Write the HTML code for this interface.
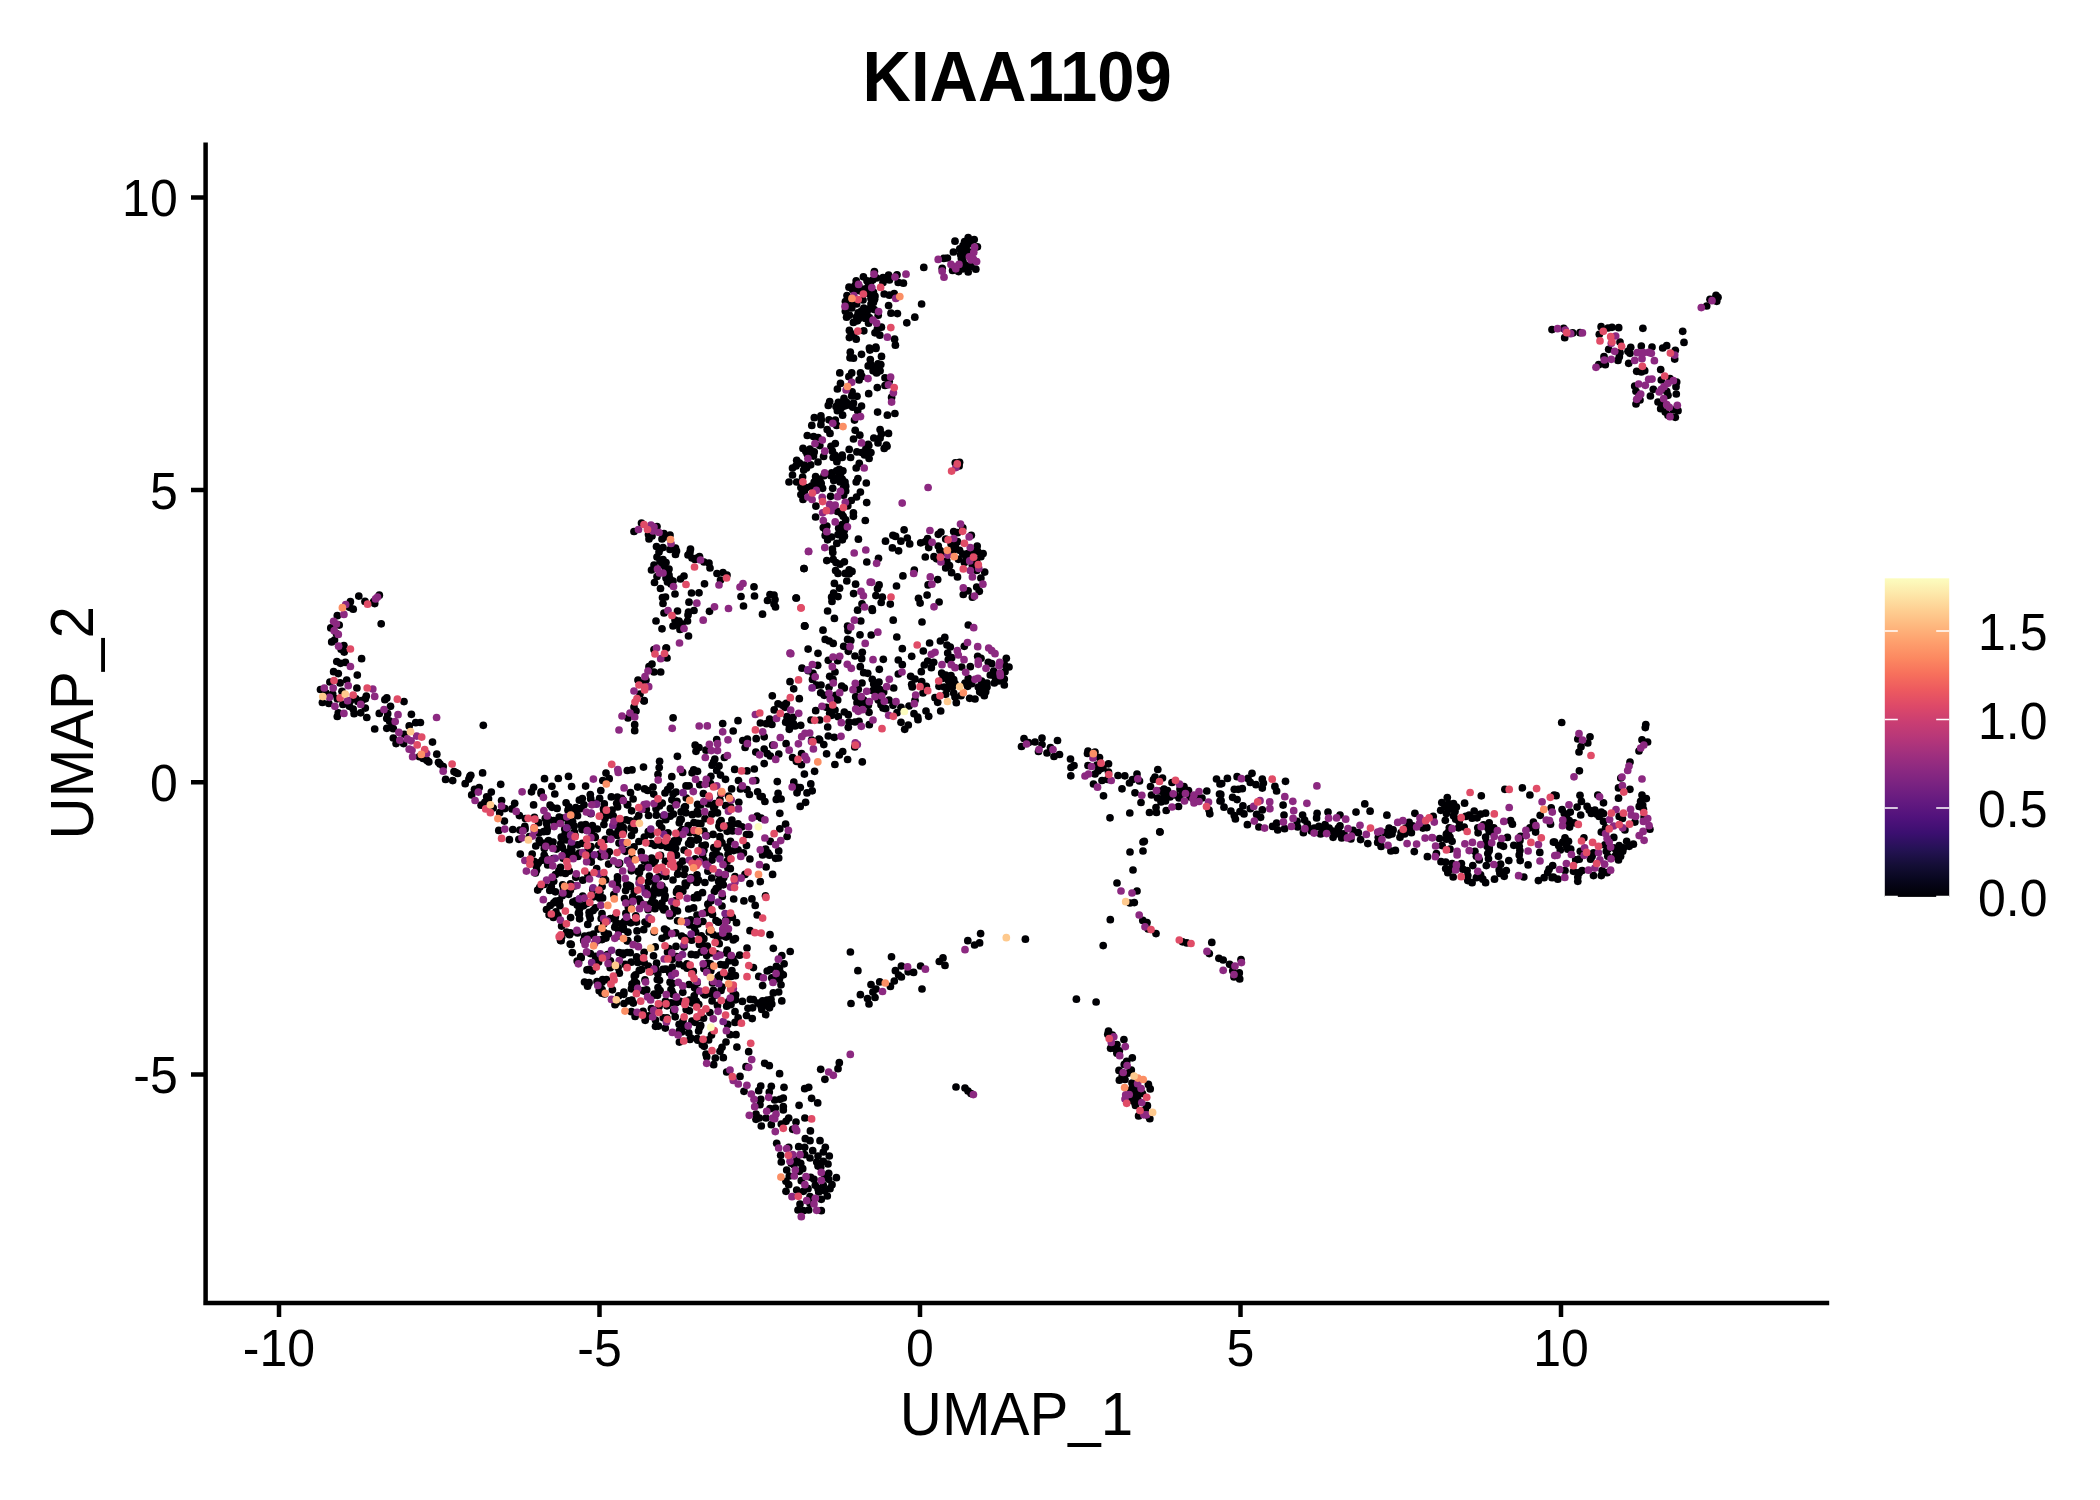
<!DOCTYPE html>
<html><head><meta charset="utf-8"><title>KIAA1109</title>
<style>
html,body{margin:0;padding:0;background:#fff}
body{width:2100px;height:1500px;overflow:hidden}
svg{display:block}
text{font-family:"Liberation Sans",Arial,Helvetica,sans-serif;fill:#000}
.tk{font-size:50px}
.ax{font-size:58.3px}
.tt{font-size:66.7px;font-weight:bold}
circle{r:3.85px}
</style></head>
<body>
<svg width="2100" height="1500" viewBox="0 0 2100 1500">
<defs>
<linearGradient id="mg" x1="0" y1="1" x2="0" y2="0">
<stop offset="0" stop-color="#000004"/><stop offset="0.05" stop-color="#07061c"/><stop offset="0.1" stop-color="#140e36"/><stop offset="0.15" stop-color="#251255"/><stop offset="0.2" stop-color="#3b0f70"/><stop offset="0.25" stop-color="#51127c"/><stop offset="0.3" stop-color="#641a80"/><stop offset="0.35" stop-color="#782281"/><stop offset="0.4" stop-color="#8c2981"/><stop offset="0.45" stop-color="#a1307e"/><stop offset="0.5" stop-color="#b73779"/><stop offset="0.55" stop-color="#ca3e72"/><stop offset="0.6" stop-color="#de4968"/><stop offset="0.65" stop-color="#ed5a5f"/><stop offset="0.7" stop-color="#f7705c"/><stop offset="0.75" stop-color="#fc8961"/><stop offset="0.8" stop-color="#fe9f6d"/><stop offset="0.85" stop-color="#feb77e"/><stop offset="0.9" stop-color="#fecf92"/><stop offset="0.95" stop-color="#fde7a9"/><stop offset="1" stop-color="#fcfdbf"/>
</linearGradient>
</defs>
<rect width="2100" height="1500" fill="#fff"/>
<text class="tt" transform="translate(1017.2 100.8) scale(1.005 1.045)" text-anchor="middle">KIAA1109</text>
<!-- points -->
<g id="pts">
<g fill="#000004"><circle cx="630.8" cy="922.8"/><circle cx="872.1" cy="608.9"/><circle cx="654.0" cy="672.0"/><circle cx="829.7" cy="713.3"/><circle cx="566.6" cy="840.0"/><circle cx="1549.1" cy="869.2"/><circle cx="1123.9" cy="1039.5"/><circle cx="778.7" cy="992.0"/><circle cx="652.9" cy="896.1"/><circle cx="666.0" cy="648.0"/><circle cx="793.7" cy="688.8"/><circle cx="1564.3" cy="813.5"/><circle cx="617.6" cy="886.2"/><circle cx="813.0" cy="673.3"/><circle cx="712.5" cy="914.4"/><circle cx="879.3" cy="669.3"/><circle cx="1332.6" cy="831.0"/><circle cx="1409.1" cy="822.4"/><circle cx="944.3" cy="687.0"/><circle cx="764.2" cy="763.6"/><circle cx="705.3" cy="845.1"/><circle cx="859.0" cy="318.4"/><circle cx="655.2" cy="946.9"/><circle cx="661.4" cy="887.9"/><circle cx="1643.4" cy="809.3"/><circle cx="673.8" cy="1010.7"/><circle cx="886.2" cy="279.2"/><circle cx="968.3" cy="625.0"/><circle cx="857.9" cy="478.5"/><circle cx="698.2" cy="813.9"/><circle cx="569.5" cy="934.7"/><circle cx="1569.6" cy="827.1"/><circle cx="962.8" cy="554.0"/><circle cx="888.6" cy="275.2"/><circle cx="831.7" cy="472.9"/><circle cx="611.3" cy="796.9"/><circle cx="1234.3" cy="789.3"/><circle cx="689.9" cy="1039.5"/><circle cx="753.4" cy="999.7"/><circle cx="630.3" cy="850.1"/><circle cx="1325.7" cy="829.3"/><circle cx="1274.9" cy="786.4"/><circle cx="1367.8" cy="843.6"/><circle cx="726.1" cy="937.1"/><circle cx="701.3" cy="935.8"/><circle cx="839.3" cy="1062.7"/><circle cx="699.5" cy="556.5"/><circle cx="796.0" cy="1122.0"/><circle cx="901.0" cy="722.3"/><circle cx="1131.3" cy="1070.0"/><circle cx="1005.0" cy="671.7"/><circle cx="974.6" cy="945.0"/><circle cx="792.5" cy="468.0"/><circle cx="788.7" cy="1118.0"/><circle cx="360.7" cy="712.8"/><circle cx="560.5" cy="867.3"/><circle cx="1006.3" cy="658.3"/><circle cx="1139.5" cy="781.0"/><circle cx="710.8" cy="970.7"/><circle cx="772.6" cy="874.4"/><circle cx="836.9" cy="461.7"/><circle cx="1311.4" cy="831.0"/><circle cx="1462.8" cy="869.2"/><circle cx="1244.0" cy="813.9"/><circle cx="873.1" cy="370.8"/><circle cx="1132.3" cy="1057.8"/><circle cx="697.8" cy="1040.2"/><circle cx="470.8" cy="775.3"/><circle cx="1645.3" cy="727.6"/><circle cx="824.3" cy="695.3"/><circle cx="937.7" cy="579.6"/><circle cx="717.5" cy="1005.4"/><circle cx="901.0" cy="707.3"/><circle cx="638.8" cy="815.4"/><circle cx="838.0" cy="573.4"/><circle cx="945.7" cy="539.1"/><circle cx="877.7" cy="692.0"/><circle cx="404.0" cy="701.6"/><circle cx="959.1" cy="466.0"/><circle cx="1239.7" cy="978.9"/><circle cx="842.2" cy="524.7"/><circle cx="800.9" cy="494.6"/><circle cx="803.3" cy="1210.7"/><circle cx="1098.0" cy="771.0"/><circle cx="1562.1" cy="809.6"/><circle cx="604.3" cy="803.9"/><circle cx="636.9" cy="819.0"/><circle cx="539.8" cy="887.0"/><circle cx="1620.6" cy="856.3"/><circle cx="1519.2" cy="854.9"/><circle cx="979.3" cy="591.3"/><circle cx="945.7" cy="694.3"/><circle cx="846.6" cy="317.2"/><circle cx="555.4" cy="874.5"/><circle cx="1716.7" cy="301.3"/><circle cx="1472.1" cy="882.7"/><circle cx="1059.5" cy="754.5"/><circle cx="545.5" cy="857.9"/><circle cx="961.0" cy="695.7"/><circle cx="653.8" cy="995.2"/><circle cx="396.1" cy="743.6"/><circle cx="580.9" cy="808.6"/><circle cx="1445.0" cy="806.4"/><circle cx="1446.4" cy="813.5"/><circle cx="985.7" cy="691.7"/><circle cx="871.0" cy="294.4"/><circle cx="621.3" cy="923.9"/><circle cx="967.8" cy="940.7"/><circle cx="760.7" cy="1086.0"/><circle cx="647.2" cy="923.9"/><circle cx="823.8" cy="744.6"/><circle cx="620.5" cy="824.8"/><circle cx="553.8" cy="902.8"/><circle cx="962.8" cy="527.9"/><circle cx="719.2" cy="943.7"/><circle cx="939.0" cy="686.3"/><circle cx="849.3" cy="405.1"/><circle cx="602.1" cy="886.5"/><circle cx="1552.1" cy="877.7"/><circle cx="732.3" cy="917.3"/><circle cx="1489.2" cy="831.4"/><circle cx="689.8" cy="832.4"/><circle cx="670.0" cy="535.0"/><circle cx="871.0" cy="984.6"/><circle cx="599.2" cy="990.7"/><circle cx="563.2" cy="858.3"/><circle cx="666.0" cy="562.5"/><circle cx="671.0" cy="989.7"/><circle cx="856.2" cy="280.8"/><circle cx="804.4" cy="465.2"/><circle cx="1144.3" cy="841.3"/><circle cx="691.3" cy="954.4"/><circle cx="898.3" cy="660.0"/><circle cx="853.5" cy="358.2"/><circle cx="337.3" cy="716.5"/><circle cx="1450.0" cy="849.2"/><circle cx="860.3" cy="666.7"/><circle cx="680.1" cy="819.4"/><circle cx="891.0" cy="313.2"/><circle cx="889.2" cy="381.3"/><circle cx="842.6" cy="415.2"/><circle cx="1562.8" cy="842.1"/><circle cx="1100.0" cy="769.0"/><circle cx="869.4" cy="348.0"/><circle cx="651.6" cy="895.6"/><circle cx="1452.1" cy="863.5"/><circle cx="907.3" cy="538.0"/><circle cx="965.0" cy="683.0"/><circle cx="963.0" cy="261.6"/><circle cx="403.6" cy="743.6"/><circle cx="665.1" cy="908.8"/><circle cx="767.5" cy="600.5"/><circle cx="709.5" cy="993.6"/><circle cx="856.9" cy="451.9"/><circle cx="1143.0" cy="842.0"/><circle cx="518.9" cy="839.3"/><circle cx="379.3" cy="713.4"/><circle cx="1124.8" cy="775.8"/><circle cx="1182.5" cy="941.8"/><circle cx="1474.9" cy="851.3"/><circle cx="1613.8" cy="837.4"/><circle cx="1238.3" cy="789.3"/><circle cx="696.3" cy="840.1"/><circle cx="1130.0" cy="903.0"/><circle cx="1160.0" cy="791.0"/><circle cx="967.7" cy="686.3"/><circle cx="791.3" cy="1163.3"/><circle cx="783.3" cy="1098.0"/><circle cx="884.2" cy="448.4"/><circle cx="698.6" cy="1031.1"/><circle cx="848.3" cy="651.3"/><circle cx="643.7" cy="1015.1"/><circle cx="365.3" cy="698.8"/><circle cx="669.0" cy="575.0"/><circle cx="803.0" cy="448.4"/><circle cx="619.1" cy="952.5"/><circle cx="619.3" cy="973.2"/><circle cx="881.4" cy="327.2"/><circle cx="803.7" cy="470.1"/><circle cx="773.3" cy="992.9"/><circle cx="1260.6" cy="817.3"/><circle cx="1135.5" cy="1105.4"/><circle cx="693.3" cy="971.4"/><circle cx="1229.6" cy="964.3"/><circle cx="869.0" cy="712.3"/><circle cx="1461.4" cy="863.5"/><circle cx="340.1" cy="682.9"/><circle cx="623.2" cy="927.1"/><circle cx="816.7" cy="1162.0"/><circle cx="793.0" cy="717.3"/><circle cx="758.0" cy="1003.2"/><circle cx="914.8" cy="317.2"/><circle cx="1574.2" cy="822.8"/><circle cx="1682.7" cy="331.3"/><circle cx="819.7" cy="740.0"/><circle cx="1108.5" cy="1031.2"/><circle cx="544.3" cy="848.6"/><circle cx="966.2" cy="250.4"/><circle cx="532.2" cy="854.0"/><circle cx="675.5" cy="548.0"/><circle cx="771.0" cy="999.4"/><circle cx="329.9" cy="682.0"/><circle cx="928.1" cy="584.9"/><circle cx="1561.7" cy="722.5"/><circle cx="789.0" cy="482.0"/><circle cx="569.3" cy="854.0"/><circle cx="612.1" cy="810.0"/><circle cx="674.2" cy="840.9"/><circle cx="500.7" cy="784.3"/><circle cx="1074.0" cy="765.5"/><circle cx="659.2" cy="767.5"/><circle cx="589.1" cy="849.9"/><circle cx="1108.5" cy="772.0"/><circle cx="1160.0" cy="832.0"/><circle cx="735.0" cy="876.7"/><circle cx="668.9" cy="948.6"/><circle cx="726.7" cy="1072.0"/><circle cx="709.3" cy="931.9"/><circle cx="718.6" cy="881.4"/><circle cx="1276.6" cy="791.0"/><circle cx="365.3" cy="708.1"/><circle cx="716.0" cy="920.5"/><circle cx="624.5" cy="843.6"/><circle cx="634.0" cy="707.0"/><circle cx="855.2" cy="430.3"/><circle cx="668.0" cy="832.8"/><circle cx="878.0" cy="363.8"/><circle cx="356.0" cy="698.8"/><circle cx="692.3" cy="814.7"/><circle cx="840.8" cy="472.9"/><circle cx="835.7" cy="695.3"/><circle cx="687.5" cy="621.0"/><circle cx="731.1" cy="976.4"/><circle cx="680.8" cy="831.4"/><circle cx="649.0" cy="666.7"/><circle cx="1451.4" cy="807.1"/><circle cx="389.6" cy="721.2"/><circle cx="696.3" cy="881.6"/><circle cx="823.3" cy="527.5"/><circle cx="967.6" cy="553.5"/><circle cx="848.3" cy="727.3"/><circle cx="820.0" cy="1140.7"/><circle cx="555.7" cy="901.1"/><circle cx="731.0" cy="1004.6"/><circle cx="1620.0" cy="342.0"/><circle cx="1604.0" cy="356.7"/><circle cx="760.3" cy="881.7"/><circle cx="675.2" cy="1016.8"/><circle cx="810.0" cy="1203.3"/><circle cx="499.7" cy="812.7"/><circle cx="1404.6" cy="833.9"/><circle cx="772.3" cy="695.8"/><circle cx="549.8" cy="845.1"/><circle cx="878.3" cy="700.0"/><circle cx="350.4" cy="700.7"/><circle cx="1258.9" cy="827.0"/><circle cx="1592.1" cy="856.3"/><circle cx="692.4" cy="1002.9"/><circle cx="667.5" cy="582.0"/><circle cx="843.6" cy="487.6"/><circle cx="1057.5" cy="740.5"/><circle cx="612.4" cy="989.8"/><circle cx="869.0" cy="1004.0"/><circle cx="912.3" cy="687.0"/><circle cx="1607.8" cy="849.2"/><circle cx="1529.9" cy="827.8"/><circle cx="606.0" cy="938.1"/><circle cx="735.6" cy="994.9"/><circle cx="677.6" cy="920.8"/><circle cx="688.5" cy="636.0"/><circle cx="803.0" cy="499.5"/><circle cx="1322.3" cy="829.3"/><circle cx="947.0" cy="689.0"/><circle cx="757.2" cy="816.1"/><circle cx="570.5" cy="857.3"/><circle cx="938.3" cy="546.0"/><circle cx="815.9" cy="506.1"/><circle cx="666.5" cy="935.9"/><circle cx="561.2" cy="837.1"/><circle cx="831.0" cy="475.7"/><circle cx="771.8" cy="977.9"/><circle cx="878.5" cy="558.3"/><circle cx="602.1" cy="989.6"/><circle cx="805.8" cy="451.2"/><circle cx="832.7" cy="488.3"/><circle cx="1141.0" cy="802.5"/><circle cx="1344.0" cy="833.9"/><circle cx="920.7" cy="542.8"/><circle cx="969.4" cy="252.0"/><circle cx="807.3" cy="435.5"/><circle cx="1675.3" cy="417.3"/><circle cx="537.0" cy="864.7"/><circle cx="713.1" cy="834.4"/><circle cx="1137.6" cy="1098.4"/><circle cx="563.5" cy="889.8"/><circle cx="629.5" cy="886.5"/><circle cx="631.4" cy="870.8"/><circle cx="738.5" cy="780.5"/><circle cx="706.0" cy="1054.0"/><circle cx="648.2" cy="909.7"/><circle cx="1386.9" cy="815.2"/><circle cx="1262.3" cy="779.0"/><circle cx="833.8" cy="480.6"/><circle cx="555.9" cy="911.8"/><circle cx="547.7" cy="841.6"/><circle cx="696.3" cy="833.3"/><circle cx="1028.5" cy="742.5"/><circle cx="682.0" cy="624.0"/><circle cx="695.4" cy="858.9"/><circle cx="867.0" cy="312.0"/><circle cx="691.0" cy="844.4"/><circle cx="836.0" cy="406.5"/><circle cx="762.5" cy="614.2"/><circle cx="789.3" cy="729.3"/><circle cx="808.1" cy="649.1"/><circle cx="1606.3" cy="851.3"/><circle cx="570.6" cy="917.6"/><circle cx="644.3" cy="837.0"/><circle cx="1448.5" cy="832.1"/><circle cx="333.6" cy="671.7"/><circle cx="1132.5" cy="779.5"/><circle cx="1556.1" cy="795.7"/><circle cx="704.5" cy="583.8"/><circle cx="885.0" cy="385.5"/><circle cx="850.4" cy="952.0"/><circle cx="465.2" cy="783.7"/><circle cx="1219.5" cy="794.0"/><circle cx="330.8" cy="627.9"/><circle cx="673.1" cy="717.8"/><circle cx="582.3" cy="798.5"/><circle cx="957.5" cy="576.9"/><circle cx="479.2" cy="787.5"/><circle cx="955.0" cy="241.2"/><circle cx="1580.0" cy="332.7"/><circle cx="683.9" cy="947.1"/><circle cx="667.0" cy="658.0"/><circle cx="343.9" cy="645.6"/><circle cx="1519.9" cy="850.6"/><circle cx="696.2" cy="1001.0"/><circle cx="747.0" cy="770.9"/><circle cx="725.5" cy="779.3"/><circle cx="738.8" cy="802.3"/><circle cx="868.6" cy="323.2"/><circle cx="1389.1" cy="828.1"/><circle cx="578.4" cy="913.0"/><circle cx="679.4" cy="1042.1"/><circle cx="653.0" cy="787.0"/><circle cx="1607.1" cy="872.7"/><circle cx="858.2" cy="312.8"/><circle cx="1070.5" cy="759.0"/><circle cx="671.8" cy="991.0"/><circle cx="695.6" cy="932.1"/><circle cx="721.1" cy="793.7"/><circle cx="1147.0" cy="922.5"/><circle cx="332.7" cy="694.1"/><circle cx="601.2" cy="918.5"/><circle cx="1001.7" cy="675.7"/><circle cx="852.6" cy="289.6"/><circle cx="579.4" cy="909.0"/><circle cx="586.8" cy="903.6"/><circle cx="1166.2" cy="810.5"/><circle cx="677.5" cy="611.0"/><circle cx="1487.8" cy="853.5"/><circle cx="1134.8" cy="1102.6"/><circle cx="641.4" cy="867.9"/><circle cx="849.4" cy="337.6"/><circle cx="576.0" cy="855.3"/><circle cx="614.8" cy="927.2"/><circle cx="843.7" cy="646.3"/><circle cx="1668.0" cy="415.3"/><circle cx="1390.9" cy="851.0"/><circle cx="386.8" cy="697.9"/><circle cx="703.5" cy="1018.2"/><circle cx="658.0" cy="987.5"/><circle cx="1633.4" cy="844.2"/><circle cx="661.3" cy="842.5"/><circle cx="1148.4" cy="1084.4"/><circle cx="698.5" cy="880.0"/><circle cx="662.1" cy="938.3"/><circle cx="848.9" cy="376.7"/><circle cx="661.9" cy="903.1"/><circle cx="766.0" cy="1118.0"/><circle cx="971.7" cy="683.7"/><circle cx="820.7" cy="692.8"/><circle cx="808.7" cy="1210.0"/><circle cx="602.8" cy="780.5"/><circle cx="758.8" cy="976.4"/><circle cx="1489.2" cy="850.6"/><circle cx="800.9" cy="487.6"/><circle cx="697.6" cy="1017.7"/><circle cx="900.9" cy="541.2"/><circle cx="1076.4" cy="999.2"/><circle cx="925.3" cy="557.0"/><circle cx="1668.0" cy="395.3"/><circle cx="1650.4" cy="396.0"/><circle cx="420.4" cy="722.5"/><circle cx="630.1" cy="820.9"/><circle cx="390.5" cy="706.3"/><circle cx="945.7" cy="675.0"/><circle cx="796.4" cy="761.3"/><circle cx="1341.7" cy="837.9"/><circle cx="697.6" cy="804.4"/><circle cx="810.7" cy="1177.3"/><circle cx="577.6" cy="844.8"/><circle cx="533.6" cy="787.3"/><circle cx="769.5" cy="855.2"/><circle cx="939.3" cy="961.5"/><circle cx="922.0" cy="622.0"/><circle cx="665.3" cy="1028.1"/><circle cx="617.5" cy="876.8"/><circle cx="666.9" cy="847.1"/><circle cx="857.4" cy="320.8"/><circle cx="756.0" cy="1119.3"/><circle cx="631.4" cy="1011.7"/><circle cx="720.5" cy="580.0"/><circle cx="901.4" cy="966.0"/><circle cx="878.0" cy="368.0"/><circle cx="804.4" cy="774.1"/><circle cx="786.7" cy="1170.0"/><circle cx="690.9" cy="1038.0"/><circle cx="675.7" cy="932.9"/><circle cx="644.2" cy="962.6"/><circle cx="697.1" cy="1038.7"/><circle cx="786.0" cy="1121.3"/><circle cx="833.1" cy="457.5"/><circle cx="735.4" cy="975.7"/><circle cx="583.7" cy="940.4"/><circle cx="643.5" cy="767.1"/><circle cx="1135.0" cy="792.8"/><circle cx="663.0" cy="559.5"/><circle cx="630.4" cy="886.2"/><circle cx="779.5" cy="968.7"/><circle cx="860.4" cy="492.1"/><circle cx="709.3" cy="908.3"/><circle cx="851.3" cy="500.5"/><circle cx="719.7" cy="856.2"/><circle cx="856.2" cy="482.0"/><circle cx="393.3" cy="738.0"/><circle cx="738.1" cy="849.8"/><circle cx="586.8" cy="830.3"/><circle cx="944.8" cy="637.4"/><circle cx="531.5" cy="791.8"/><circle cx="694.0" cy="897.7"/><circle cx="519.4" cy="815.6"/><circle cx="805.6" cy="802.3"/><circle cx="1364.8" cy="803.9"/><circle cx="769.3" cy="1092.0"/><circle cx="917.7" cy="717.0"/><circle cx="880.1" cy="438.0"/><circle cx="525.4" cy="818.5"/><circle cx="676.2" cy="1002.7"/><circle cx="1220.0" cy="801.0"/><circle cx="570.5" cy="883.8"/><circle cx="659.5" cy="980.3"/><circle cx="709.0" cy="563.0"/><circle cx="344.2" cy="652.1"/><circle cx="676.0" cy="946.4"/><circle cx="553.8" cy="820.6"/><circle cx="656.5" cy="546.5"/><circle cx="550.1" cy="805.1"/><circle cx="801.6" cy="753.6"/><circle cx="338.3" cy="712.8"/><circle cx="1209.8" cy="813.8"/><circle cx="764.9" cy="801.5"/><circle cx="718.4" cy="922.2"/><circle cx="560.8" cy="843.5"/><circle cx="879.7" cy="981.9"/><circle cx="830.6" cy="496.3"/><circle cx="733.7" cy="899.0"/><circle cx="587.6" cy="986.2"/><circle cx="1575.7" cy="859.9"/><circle cx="605.0" cy="818.6"/><circle cx="1338.9" cy="831.6"/><circle cx="819.8" cy="445.6"/><circle cx="895.4" cy="970.7"/><circle cx="977.7" cy="551.3"/><circle cx="1325.1" cy="824.7"/><circle cx="765.4" cy="895.9"/><circle cx="908.2" cy="971.8"/><circle cx="811.7" cy="740.0"/><circle cx="787.0" cy="716.7"/><circle cx="651.0" cy="834.8"/><circle cx="1356.0" cy="812.1"/><circle cx="1550.5" cy="824.2"/><circle cx="1580.0" cy="795.3"/><circle cx="829.7" cy="676.3"/><circle cx="889.4" cy="280.0"/><circle cx="655.5" cy="968.4"/><circle cx="921.7" cy="681.7"/><circle cx="885.0" cy="377.8"/><circle cx="725.1" cy="874.7"/><circle cx="411.4" cy="714.3"/><circle cx="657.5" cy="995.3"/><circle cx="870.3" cy="359.6"/><circle cx="632.6" cy="896.8"/><circle cx="918.5" cy="598.3"/><circle cx="869.3" cy="724.7"/><circle cx="705.1" cy="995.0"/><circle cx="695.0" cy="559.5"/><circle cx="1661.3" cy="380.0"/><circle cx="662.5" cy="597.5"/><circle cx="868.2" cy="365.9"/><circle cx="1119.0" cy="1070.4"/><circle cx="645.2" cy="1020.3"/><circle cx="796.4" cy="598.0"/><circle cx="862.0" cy="603.8"/><circle cx="658.0" cy="774.4"/><circle cx="727.0" cy="920.7"/><circle cx="801.3" cy="1180.7"/><circle cx="1308.6" cy="828.1"/><circle cx="718.1" cy="887.8"/><circle cx="1272.6" cy="826.4"/><circle cx="1156.5" cy="812.5"/><circle cx="1645.8" cy="724.5"/><circle cx="840.9" cy="405.1"/><circle cx="702.5" cy="892.7"/><circle cx="760.7" cy="1099.3"/><circle cx="660.5" cy="588.5"/><circle cx="1353.1" cy="830.4"/><circle cx="582.8" cy="880.2"/><circle cx="783.3" cy="1106.7"/><circle cx="818.0" cy="462.0"/><circle cx="658.5" cy="1026.1"/><circle cx="438.5" cy="762.3"/><circle cx="1566.4" cy="816.4"/><circle cx="832.4" cy="549.0"/><circle cx="856.2" cy="468.0"/><circle cx="1393.1" cy="829.9"/><circle cx="774.2" cy="709.9"/><circle cx="675.6" cy="900.7"/><circle cx="1297.7" cy="827.0"/><circle cx="687.2" cy="968.2"/><circle cx="845.7" cy="519.8"/><circle cx="1597.8" cy="795.0"/><circle cx="823.3" cy="1185.3"/><circle cx="862.3" cy="761.9"/><circle cx="1601.1" cy="326.7"/><circle cx="691.4" cy="879.9"/><circle cx="726.5" cy="953.1"/><circle cx="655.3" cy="860.0"/><circle cx="842.9" cy="470.8"/><circle cx="847.8" cy="505.8"/><circle cx="981.0" cy="658.3"/><circle cx="943.0" cy="957.9"/><circle cx="877.4" cy="328.8"/><circle cx="660.0" cy="549.0"/><circle cx="625.9" cy="913.4"/><circle cx="1618.7" cy="327.7"/><circle cx="1318.9" cy="826.4"/><circle cx="796.7" cy="482.0"/><circle cx="1540.2" cy="815.3"/><circle cx="857.9" cy="970.7"/><circle cx="680.2" cy="1001.3"/><circle cx="345.4" cy="662.4"/><circle cx="1582.1" cy="870.6"/><circle cx="1485.6" cy="882.7"/><circle cx="721.0" cy="990.4"/><circle cx="838.4" cy="402.3"/><circle cx="564.9" cy="852.1"/><circle cx="955.3" cy="462.8"/><circle cx="1453.5" cy="815.7"/><circle cx="926.0" cy="711.0"/><circle cx="721.1" cy="820.6"/><circle cx="839.3" cy="755.0"/><circle cx="648.4" cy="966.2"/><circle cx="618.5" cy="935.9"/><circle cx="715.3" cy="1058.0"/><circle cx="591.2" cy="857.6"/><circle cx="584.5" cy="982.0"/><circle cx="574.3" cy="832.1"/><circle cx="568.8" cy="891.4"/><circle cx="760.4" cy="723.0"/><circle cx="941.7" cy="673.0"/><circle cx="1450.7" cy="869.2"/><circle cx="1558.6" cy="845.6"/><circle cx="853.5" cy="403.0"/><circle cx="775.6" cy="858.3"/><circle cx="1304.6" cy="820.1"/><circle cx="662.0" cy="628.8"/><circle cx="1630.0" cy="762.0"/><circle cx="1608.7" cy="349.3"/><circle cx="679.3" cy="822.8"/><circle cx="504.4" cy="821.1"/><circle cx="879.7" cy="689.3"/><circle cx="921.6" cy="304.0"/><circle cx="694.4" cy="897.6"/><circle cx="837.4" cy="389.0"/><circle cx="800.2" cy="806.4"/><circle cx="1436.4" cy="853.5"/><circle cx="690.0" cy="552.0"/><circle cx="684.3" cy="807.3"/><circle cx="778.8" cy="754.0"/><circle cx="626.6" cy="885.0"/><circle cx="1447.8" cy="872.7"/><circle cx="692.1" cy="772.8"/><circle cx="648.3" cy="831.6"/><circle cx="857.0" cy="702.7"/><circle cx="1129.8" cy="813.0"/><circle cx="1021.5" cy="746.5"/><circle cx="884.2" cy="294.0"/><circle cx="860.8" cy="621.0"/><circle cx="618.9" cy="930.7"/><circle cx="686.4" cy="921.0"/><circle cx="1234.3" cy="815.6"/><circle cx="547.4" cy="828.4"/><circle cx="974.5" cy="551.3"/><circle cx="681.7" cy="936.2"/><circle cx="722.0" cy="842.9"/><circle cx="1137.0" cy="891.0"/><circle cx="1440.7" cy="810.3"/><circle cx="876.0" cy="989.0"/><circle cx="667.5" cy="952.1"/><circle cx="911.7" cy="656.3"/><circle cx="617.4" cy="835.4"/><circle cx="821.3" cy="419.8"/><circle cx="792.6" cy="757.5"/><circle cx="700.9" cy="823.7"/><circle cx="1605.6" cy="827.8"/><circle cx="999.0" cy="681.0"/><circle cx="828.3" cy="405.4"/><circle cx="1132.7" cy="1087.2"/><circle cx="1095.0" cy="774.0"/><circle cx="861.5" cy="406.1"/><circle cx="1472.8" cy="865.6"/><circle cx="1149.5" cy="812.5"/><circle cx="571.6" cy="786.5"/><circle cx="659.0" cy="1006.4"/><circle cx="557.9" cy="915.7"/><circle cx="681.6" cy="1032.0"/><circle cx="826.8" cy="526.1"/><circle cx="673.0" cy="880.0"/><circle cx="952.6" cy="270.4"/><circle cx="600.8" cy="790.5"/><circle cx="1469.2" cy="815.0"/><circle cx="644.2" cy="700.7"/><circle cx="1477.8" cy="827.8"/><circle cx="535.4" cy="873.0"/><circle cx="837.7" cy="700.0"/><circle cx="1565.0" cy="870.6"/><circle cx="1533.4" cy="822.1"/><circle cx="953.7" cy="693.0"/><circle cx="637.6" cy="938.8"/><circle cx="595.3" cy="837.4"/><circle cx="823.3" cy="1161.3"/><circle cx="736.5" cy="922.7"/><circle cx="320.5" cy="689.5"/><circle cx="1237.1" cy="776.7"/><circle cx="349.5" cy="706.3"/><circle cx="749.9" cy="883.6"/><circle cx="580.7" cy="956.7"/><circle cx="699.0" cy="592.8"/><circle cx="767.2" cy="1000.2"/><circle cx="1102.0" cy="780.5"/><circle cx="686.7" cy="883.4"/><circle cx="765.7" cy="1004.0"/><circle cx="819.8" cy="480.6"/><circle cx="1603.5" cy="821.4"/><circle cx="1148.2" cy="929.0"/><circle cx="1500.6" cy="864.2"/><circle cx="350.4" cy="601.7"/><circle cx="445.6" cy="779.4"/><circle cx="1636.7" cy="371.3"/><circle cx="711.5" cy="1035.1"/><circle cx="1552.7" cy="865.6"/><circle cx="876.6" cy="278.0"/><circle cx="804.7" cy="1154.7"/><circle cx="894.2" cy="293.6"/><circle cx="551.3" cy="886.7"/><circle cx="1520.2" cy="860.6"/><circle cx="698.3" cy="839.4"/><circle cx="1579.4" cy="770.8"/><circle cx="690.5" cy="840.3"/><circle cx="619.0" cy="843.1"/><circle cx="821.0" cy="685.0"/><circle cx="1676.3" cy="394.0"/><circle cx="1232.8" cy="970.7"/><circle cx="1095.0" cy="752.0"/><circle cx="699.8" cy="784.7"/><circle cx="712.1" cy="1000.9"/><circle cx="896.5" cy="586.0"/><circle cx="631.5" cy="835.6"/><circle cx="927.1" cy="595.1"/><circle cx="645.0" cy="979.9"/><circle cx="689.1" cy="984.5"/><circle cx="1047.0" cy="753.0"/><circle cx="1464.2" cy="827.1"/><circle cx="1307.4" cy="824.1"/><circle cx="1640.0" cy="400.0"/><circle cx="720.3" cy="828.1"/><circle cx="595.6" cy="803.4"/><circle cx="570.2" cy="853.7"/><circle cx="880.8" cy="364.5"/><circle cx="1593.5" cy="875.6"/><circle cx="677.7" cy="867.7"/><circle cx="544.5" cy="778.7"/><circle cx="670.6" cy="848.0"/><circle cx="731.0" cy="988.6"/><circle cx="1150.5" cy="786.5"/><circle cx="844.3" cy="688.0"/><circle cx="1182.0" cy="794.0"/><circle cx="1143.0" cy="851.0"/><circle cx="366.8" cy="717.5"/><circle cx="1619.2" cy="816.4"/><circle cx="761.3" cy="1126.0"/><circle cx="706.7" cy="955.6"/><circle cx="775.0" cy="599.5"/><circle cx="656.0" cy="621.0"/><circle cx="644.6" cy="788.9"/><circle cx="1487.1" cy="846.3"/><circle cx="1178.5" cy="806.5"/><circle cx="1577.8" cy="881.3"/><circle cx="976.7" cy="570.5"/><circle cx="802.6" cy="477.1"/><circle cx="956.0" cy="1087.0"/><circle cx="1450.0" cy="837.1"/><circle cx="1070.8" cy="775.8"/><circle cx="833.2" cy="559.4"/><circle cx="827.3" cy="1196.0"/><circle cx="1678.0" cy="410.7"/><circle cx="596.7" cy="868.6"/><circle cx="873.7" cy="684.0"/><circle cx="735.0" cy="1011.7"/><circle cx="838.3" cy="716.7"/><circle cx="950.3" cy="647.0"/><circle cx="816.6" cy="685.2"/><circle cx="664.4" cy="889.9"/><circle cx="706.0" cy="750.2"/><circle cx="664.7" cy="898.4"/><circle cx="606.0" cy="773.1"/><circle cx="672.5" cy="913.4"/><circle cx="665.5" cy="1001.1"/><circle cx="1009.0" cy="667.0"/><circle cx="568.3" cy="823.3"/><circle cx="1042.0" cy="738.0"/><circle cx="909.7" cy="543.9"/><circle cx="720.5" cy="964.5"/><circle cx="849.2" cy="569.8"/><circle cx="1025.4" cy="939.2"/><circle cx="836.4" cy="1177.7"/><circle cx="1479.2" cy="859.9"/><circle cx="727.2" cy="976.1"/><circle cx="1486.3" cy="842.1"/><circle cx="692.0" cy="1021.2"/><circle cx="1093.5" cy="784.0"/><circle cx="1242.3" cy="788.7"/><circle cx="1603.5" cy="813.5"/><circle cx="838.0" cy="596.6"/><circle cx="606.5" cy="979.7"/><circle cx="1250.3" cy="782.4"/><circle cx="795.0" cy="726.0"/><circle cx="697.5" cy="894.8"/><circle cx="753.4" cy="967.6"/><circle cx="631.4" cy="908.3"/><circle cx="486.7" cy="796.8"/><circle cx="851.8" cy="308.0"/><circle cx="976.7" cy="587.1"/><circle cx="673.1" cy="793.9"/><circle cx="952.3" cy="687.0"/><circle cx="750.3" cy="999.4"/><circle cx="964.6" cy="241.6"/><circle cx="752.2" cy="1018.6"/><circle cx="981.7" cy="685.0"/><circle cx="872.9" cy="992.0"/><circle cx="340.5" cy="663.3"/><circle cx="877.3" cy="387.6"/><circle cx="774.0" cy="604.0"/><circle cx="883.0" cy="277.6"/><circle cx="834.9" cy="764.5"/><circle cx="757.2" cy="915.0"/><circle cx="760.3" cy="796.6"/><circle cx="595.3" cy="907.9"/><circle cx="1240.0" cy="811.6"/><circle cx="1414.3" cy="851.6"/><circle cx="568.0" cy="810.2"/><circle cx="842.2" cy="457.5"/><circle cx="755.8" cy="752.1"/><circle cx="988.3" cy="662.3"/><circle cx="602.0" cy="982.3"/><circle cx="662.0" cy="564.0"/><circle cx="541.2" cy="791.8"/><circle cx="672.2" cy="959.3"/><circle cx="559.9" cy="905.7"/><circle cx="339.2" cy="625.1"/><circle cx="574.2" cy="826.1"/><circle cx="810.0" cy="1158.0"/><circle cx="590.3" cy="794.5"/><circle cx="675.5" cy="554.5"/><circle cx="512.8" cy="829.5"/><circle cx="1148.8" cy="1116.6"/><circle cx="657.0" cy="557.0"/><circle cx="1412.6" cy="825.9"/><circle cx="1474.2" cy="811.0"/><circle cx="813.5" cy="456.1"/><circle cx="1607.8" cy="856.3"/><circle cx="655.5" cy="1026.3"/><circle cx="835.3" cy="443.6"/><circle cx="801.4" cy="764.7"/><circle cx="835.6" cy="570.6"/><circle cx="923.3" cy="651.0"/><circle cx="855.7" cy="696.7"/><circle cx="869.1" cy="458.5"/><circle cx="665.5" cy="571.0"/><circle cx="1716.0" cy="295.3"/><circle cx="800.7" cy="725.3"/><circle cx="664.5" cy="566.0"/><circle cx="767.2" cy="1005.5"/><circle cx="1459.2" cy="822.1"/><circle cx="862.3" cy="652.3"/><circle cx="847.6" cy="639.4"/><circle cx="519.8" cy="830.1"/><circle cx="578.6" cy="962.8"/><circle cx="983.1" cy="553.5"/><circle cx="730.5" cy="806.8"/><circle cx="947.0" cy="645.0"/><circle cx="365.0" cy="601.4"/><circle cx="672.5" cy="983.4"/><circle cx="742.4" cy="1001.4"/><circle cx="1159.8" cy="831.8"/><circle cx="679.1" cy="1024.3"/><circle cx="825.4" cy="529.6"/><circle cx="647.5" cy="865.2"/><circle cx="716.1" cy="852.7"/><circle cx="684.1" cy="874.6"/><circle cx="765.7" cy="849.1"/><circle cx="670.4" cy="808.4"/><circle cx="660.1" cy="990.6"/><circle cx="740.0" cy="1076.4"/><circle cx="409.2" cy="725.9"/><circle cx="855.0" cy="656.0"/><circle cx="762.2" cy="796.7"/><circle cx="632.0" cy="769.9"/><circle cx="779.5" cy="978.7"/><circle cx="694.5" cy="927.3"/><circle cx="623.6" cy="929.3"/><circle cx="818.0" cy="1188.7"/><circle cx="798.7" cy="1146.7"/><circle cx="609.8" cy="832.2"/><circle cx="852.0" cy="571.4"/><circle cx="838.0" cy="1068.7"/><circle cx="921.3" cy="671.7"/><circle cx="654.5" cy="582.5"/><circle cx="632.5" cy="987.4"/><circle cx="1088.0" cy="765.5"/><circle cx="676.9" cy="801.3"/><circle cx="777.3" cy="781.6"/><circle cx="979.7" cy="691.7"/><circle cx="887.0" cy="446.3"/><circle cx="984.7" cy="572.1"/><circle cx="874.6" cy="299.2"/><circle cx="713.7" cy="1064.7"/><circle cx="1554.6" cy="842.1"/><circle cx="722.7" cy="723.6"/><circle cx="1087.5" cy="753.5"/><circle cx="936.7" cy="558.8"/><circle cx="635.6" cy="974.9"/><circle cx="811.8" cy="425.4"/><circle cx="850.0" cy="357.8"/><circle cx="897.0" cy="712.7"/><circle cx="712.8" cy="855.2"/><circle cx="949.7" cy="683.7"/><circle cx="785.0" cy="707.3"/><circle cx="1570.3" cy="812.1"/><circle cx="831.0" cy="710.7"/><circle cx="1209.3" cy="953.6"/><circle cx="754.0" cy="586.8"/><circle cx="894.3" cy="981.0"/><circle cx="682.6" cy="772.4"/><circle cx="684.5" cy="937.8"/><circle cx="810.0" cy="449.1"/><circle cx="868.8" cy="445.6"/><circle cx="571.2" cy="944.4"/><circle cx="797.0" cy="792.8"/><circle cx="868.6" cy="293.6"/><circle cx="958.5" cy="559.3"/><circle cx="746.5" cy="845.6"/><circle cx="549.8" cy="890.4"/><circle cx="733.4" cy="993.0"/><circle cx="722.0" cy="1047.3"/><circle cx="1577.8" cy="877.0"/><circle cx="794.0" cy="1164.7"/><circle cx="663.0" cy="969.3"/><circle cx="357.3" cy="675.1"/><circle cx="604.9" cy="853.2"/><circle cx="1103.5" cy="795.8"/><circle cx="562.2" cy="895.8"/><circle cx="659.0" cy="552.0"/><circle cx="867.0" cy="280.8"/><circle cx="665.8" cy="969.2"/><circle cx="624.0" cy="1003.5"/><circle cx="634.7" cy="730.7"/><circle cx="857.0" cy="396.3"/><circle cx="694.2" cy="995.9"/><circle cx="1552.0" cy="329.6"/><circle cx="1480.6" cy="814.2"/><circle cx="633.3" cy="1003.1"/><circle cx="655.5" cy="1020.0"/><circle cx="697.3" cy="811.4"/><circle cx="861.5" cy="354.3"/><circle cx="783.3" cy="1110.0"/><circle cx="625.2" cy="964.4"/><circle cx="727.0" cy="575.0"/><circle cx="849.0" cy="287.2"/><circle cx="825.2" cy="535.4"/><circle cx="1485.6" cy="837.1"/><circle cx="621.6" cy="798.3"/><circle cx="1117.0" cy="883.0"/><circle cx="824.9" cy="1079.3"/><circle cx="676.5" cy="892.6"/><circle cx="630.3" cy="902.2"/><circle cx="719.0" cy="765.9"/><circle cx="1164.0" cy="789.0"/><circle cx="796.0" cy="598.0"/><circle cx="579.4" cy="800.2"/><circle cx="897.4" cy="313.6"/><circle cx="603.5" cy="808.9"/><circle cx="357.9" cy="701.6"/><circle cx="585.6" cy="786.1"/><circle cx="757.6" cy="791.8"/><circle cx="547.7" cy="864.9"/><circle cx="881.2" cy="602.5"/><circle cx="707.9" cy="904.2"/><circle cx="762.6" cy="985.6"/><circle cx="1573.5" cy="871.3"/><circle cx="1232.6" cy="797.3"/><circle cx="1636.0" cy="391.3"/><circle cx="813.6" cy="436.6"/><circle cx="708.5" cy="804.0"/><circle cx="748.7" cy="1051.7"/><circle cx="928.7" cy="547.6"/><circle cx="1563.7" cy="328.4"/><circle cx="710.0" cy="568.0"/><circle cx="754.3" cy="769.0"/><circle cx="575.7" cy="900.8"/><circle cx="684.6" cy="1026.6"/><circle cx="994.3" cy="683.0"/><circle cx="1653.3" cy="389.3"/><circle cx="654.0" cy="565.0"/><circle cx="849.4" cy="330.4"/><circle cx="880.1" cy="370.8"/><circle cx="867.7" cy="673.3"/><circle cx="735.0" cy="962.6"/><circle cx="832.0" cy="1184.7"/><circle cx="823.0" cy="630.2"/><circle cx="1004.3" cy="685.0"/><circle cx="716.7" cy="770.5"/><circle cx="670.0" cy="549.5"/><circle cx="674.0" cy="906.9"/><circle cx="776.4" cy="966.4"/><circle cx="688.0" cy="615.0"/><circle cx="804.8" cy="626.0"/><circle cx="674.4" cy="851.6"/><circle cx="566.1" cy="802.8"/><circle cx="1186.8" cy="942.9"/><circle cx="651.9" cy="863.3"/><circle cx="644.3" cy="860.7"/><circle cx="881.0" cy="704.7"/><circle cx="1035.0" cy="742.0"/><circle cx="1665.3" cy="412.0"/><circle cx="738.1" cy="823.8"/><circle cx="688.0" cy="555.0"/><circle cx="575.0" cy="835.3"/><circle cx="349.5" cy="607.3"/><circle cx="831.7" cy="706.7"/><circle cx="587.1" cy="851.8"/><circle cx="898.6" cy="975.0"/><circle cx="1164.0" cy="795.0"/><circle cx="829.0" cy="687.3"/><circle cx="696.0" cy="751.3"/><circle cx="845.1" cy="405.8"/><circle cx="1494.5" cy="879.2"/><circle cx="1446.4" cy="834.2"/><circle cx="646.3" cy="889.7"/><circle cx="883.7" cy="692.0"/><circle cx="827.7" cy="727.0"/><circle cx="980.9" cy="578.0"/><circle cx="889.4" cy="295.2"/><circle cx="889.0" cy="700.0"/><circle cx="712.1" cy="765.2"/><circle cx="995.0" cy="677.0"/><circle cx="691.1" cy="877.5"/><circle cx="653.5" cy="955.8"/><circle cx="1599.3" cy="334.3"/><circle cx="653.7" cy="794.1"/><circle cx="704.2" cy="1046.3"/><circle cx="1579.2" cy="872.7"/><circle cx="567.0" cy="828.4"/><circle cx="638.0" cy="680.0"/><circle cx="1535.6" cy="827.8"/><circle cx="1510.6" cy="820.7"/><circle cx="590.8" cy="813.7"/><circle cx="693.9" cy="822.6"/><circle cx="834.4" cy="618.4"/><circle cx="815.6" cy="517.0"/><circle cx="1519.2" cy="846.3"/><circle cx="977.7" cy="656.3"/><circle cx="1302.6" cy="815.0"/><circle cx="1129.5" cy="783.0"/><circle cx="1560.3" cy="849.9"/><circle cx="824.7" cy="1176.7"/><circle cx="702.6" cy="855.1"/><circle cx="1486.3" cy="865.6"/><circle cx="1237.1" cy="799.6"/><circle cx="983.0" cy="689.0"/><circle cx="845.0" cy="482.0"/><circle cx="587.8" cy="924.4"/><circle cx="635.8" cy="915.8"/><circle cx="589.1" cy="912.3"/><circle cx="707.7" cy="963.2"/><circle cx="955.3" cy="546.0"/><circle cx="810.0" cy="1196.7"/><circle cx="655.0" cy="908.7"/><circle cx="1670.0" cy="378.7"/><circle cx="632.2" cy="857.7"/><circle cx="617.4" cy="880.4"/><circle cx="808.7" cy="1087.3"/><circle cx="1601.3" cy="875.6"/><circle cx="972.4" cy="597.2"/><circle cx="666.7" cy="930.6"/><circle cx="872.6" cy="280.0"/><circle cx="1118.0" cy="775.5"/><circle cx="1156.0" cy="807.5"/><circle cx="1138.6" cy="1115.9"/><circle cx="661.8" cy="885.8"/><circle cx="1622.7" cy="851.3"/><circle cx="724.8" cy="936.3"/><circle cx="1103.2" cy="945.6"/><circle cx="859.1" cy="379.9"/><circle cx="953.4" cy="252.0"/><circle cx="929.6" cy="643.0"/><circle cx="685.5" cy="886.0"/><circle cx="666.9" cy="1017.8"/><circle cx="1139.0" cy="1093.5"/><circle cx="686.0" cy="785.9"/><circle cx="603.6" cy="813.8"/><circle cx="723.3" cy="884.8"/><circle cx="1024.0" cy="738.5"/><circle cx="924.3" cy="665.0"/><circle cx="628.2" cy="921.7"/><circle cx="549.2" cy="819.7"/><circle cx="689.3" cy="1000.2"/><circle cx="615.0" cy="1004.7"/><circle cx="544.2" cy="884.5"/><circle cx="617.6" cy="806.9"/><circle cx="847.0" cy="295.6"/><circle cx="1285.5" cy="781.3"/><circle cx="863.0" cy="300.0"/><circle cx="827.6" cy="611.0"/><circle cx="756.2" cy="738.7"/><circle cx="828.7" cy="1179.3"/><circle cx="853.4" cy="322.4"/><circle cx="849.0" cy="722.0"/><circle cx="939.9" cy="550.3"/><circle cx="1256.6" cy="814.4"/><circle cx="334.5" cy="640.0"/><circle cx="1456.4" cy="807.1"/><circle cx="736.9" cy="1047.1"/><circle cx="1630.0" cy="353.3"/><circle cx="557.1" cy="808.4"/><circle cx="601.9" cy="993.2"/><circle cx="774.9" cy="979.4"/><circle cx="353.2" cy="709.1"/><circle cx="719.1" cy="978.3"/><circle cx="534.1" cy="861.4"/><circle cx="826.3" cy="707.3"/><circle cx="832.4" cy="451.2"/><circle cx="537.7" cy="890.1"/><circle cx="879.1" cy="584.9"/><circle cx="675.2" cy="802.3"/><circle cx="903.4" cy="283.2"/><circle cx="1580.3" cy="851.3"/><circle cx="747.0" cy="789.7"/><circle cx="811.6" cy="1098.3"/><circle cx="946.8" cy="560.9"/><circle cx="686.2" cy="1009.4"/><circle cx="663.0" cy="603.5"/><circle cx="855.6" cy="584.2"/><circle cx="743.9" cy="900.9"/><circle cx="1142.8" cy="920.4"/><circle cx="598.0" cy="958.9"/><circle cx="1239.3" cy="972.9"/><circle cx="1500.6" cy="844.9"/><circle cx="1639.0" cy="751.0"/><circle cx="1485.6" cy="813.2"/><circle cx="625.6" cy="890.6"/><circle cx="776.3" cy="799.4"/><circle cx="778.0" cy="703.8"/><circle cx="891.5" cy="956.8"/><circle cx="657.1" cy="993.9"/><circle cx="1320.6" cy="833.9"/><circle cx="1147.4" cy="1105.7"/><circle cx="733.6" cy="850.6"/><circle cx="1350.9" cy="839.0"/><circle cx="901.4" cy="977.0"/><circle cx="1618.5" cy="787.9"/><circle cx="675.0" cy="620.0"/><circle cx="881.5" cy="356.4"/><circle cx="841.6" cy="407.2"/><circle cx="931.3" cy="667.7"/><circle cx="859.3" cy="463.4"/><circle cx="386.8" cy="718.4"/><circle cx="786.0" cy="1191.3"/><circle cx="761.1" cy="1006.3"/><circle cx="755.2" cy="905.4"/><circle cx="600.8" cy="856.8"/><circle cx="778.1" cy="793.4"/><circle cx="679.0" cy="621.0"/><circle cx="849.4" cy="315.2"/><circle cx="708.6" cy="1039.9"/><circle cx="373.7" cy="601.7"/><circle cx="1478.1" cy="832.8"/><circle cx="673.3" cy="994.4"/><circle cx="697.8" cy="823.3"/><circle cx="759.3" cy="1118.0"/><circle cx="651.4" cy="1008.6"/><circle cx="679.8" cy="889.3"/><circle cx="705.0" cy="818.7"/><circle cx="693.6" cy="907.9"/><circle cx="875.0" cy="997.5"/><circle cx="589.1" cy="982.7"/><circle cx="722.3" cy="896.5"/><circle cx="703.3" cy="945.5"/><circle cx="876.6" cy="372.9"/><circle cx="1512.4" cy="824.2"/><circle cx="654.1" cy="932.1"/><circle cx="520.3" cy="854.1"/><circle cx="818.4" cy="479.2"/><circle cx="817.7" cy="1102.9"/><circle cx="1597.1" cy="814.2"/><circle cx="885.5" cy="541.2"/><circle cx="851.7" cy="372.9"/><circle cx="871.2" cy="635.0"/><circle cx="614.6" cy="822.8"/><circle cx="538.7" cy="832.9"/><circle cx="841.7" cy="686.0"/><circle cx="851.0" cy="304.8"/><circle cx="942.2" cy="268.4"/><circle cx="1427.4" cy="856.7"/><circle cx="790.2" cy="951.5"/><circle cx="684.0" cy="576.0"/><circle cx="715.0" cy="803.7"/><circle cx="1242.9" cy="805.9"/><circle cx="969.7" cy="698.3"/><circle cx="788.3" cy="722.7"/><circle cx="587.9" cy="846.1"/><circle cx="689.1" cy="785.9"/><circle cx="1452.1" cy="841.3"/><circle cx="602.1" cy="939.6"/><circle cx="670.1" cy="982.2"/><circle cx="871.0" cy="304.0"/><circle cx="749.6" cy="834.5"/><circle cx="664.0" cy="533.5"/><circle cx="800.0" cy="1204.0"/><circle cx="602.6" cy="897.9"/><circle cx="703.9" cy="968.5"/><circle cx="575.2" cy="811.1"/><circle cx="723.3" cy="1057.7"/><circle cx="799.5" cy="463.1"/><circle cx="648.5" cy="534.5"/><circle cx="1489.2" cy="847.8"/><circle cx="1445.7" cy="862.0"/><circle cx="878.2" cy="315.2"/><circle cx="844.3" cy="530.3"/><circle cx="904.1" cy="529.8"/><circle cx="1358.3" cy="832.7"/><circle cx="1579.0" cy="752.0"/><circle cx="723.8" cy="965.1"/><circle cx="561.7" cy="936.8"/><circle cx="670.3" cy="786.2"/><circle cx="575.8" cy="877.3"/><circle cx="937.7" cy="702.3"/><circle cx="636.6" cy="956.8"/><circle cx="558.3" cy="778.5"/><circle cx="1198.0" cy="797.0"/><circle cx="738.1" cy="1017.8"/><circle cx="825.3" cy="1147.3"/><circle cx="587.0" cy="969.9"/><circle cx="657.9" cy="973.8"/><circle cx="687.0" cy="963.9"/><circle cx="598.9" cy="895.7"/><circle cx="1623.5" cy="847.8"/><circle cx="593.6" cy="896.8"/><circle cx="548.6" cy="840.6"/><circle cx="735.0" cy="1022.4"/><circle cx="697.3" cy="990.8"/><circle cx="848.0" cy="630.6"/><circle cx="659.5" cy="1004.3"/><circle cx="673.7" cy="1011.2"/><circle cx="1605.3" cy="364.7"/><circle cx="1119.4" cy="1080.2"/><circle cx="993.7" cy="671.0"/><circle cx="631.2" cy="962.2"/><circle cx="751.9" cy="898.9"/><circle cx="590.4" cy="953.6"/><circle cx="560.5" cy="940.3"/><circle cx="559.2" cy="817.0"/><circle cx="679.5" cy="864.8"/><circle cx="1684.0" cy="342.4"/><circle cx="821.2" cy="483.4"/><circle cx="546.5" cy="909.5"/><circle cx="862.0" cy="683.0"/><circle cx="1601.3" cy="832.1"/><circle cx="585.6" cy="824.5"/><circle cx="785.6" cy="824.2"/><circle cx="331.7" cy="641.9"/><circle cx="698.0" cy="924.0"/><circle cx="838.7" cy="528.2"/><circle cx="910.7" cy="676.3"/><circle cx="1277.7" cy="829.9"/><circle cx="678.4" cy="838.9"/><circle cx="1116.9" cy="1044.5"/><circle cx="666.0" cy="578.0"/><circle cx="758.7" cy="1090.7"/><circle cx="1422.9" cy="828.1"/><circle cx="657.3" cy="979.5"/><circle cx="780.0" cy="1099.3"/><circle cx="824.7" cy="1190.7"/><circle cx="642.0" cy="683.0"/><circle cx="849.2" cy="573.8"/><circle cx="742.8" cy="740.6"/><circle cx="820.7" cy="1167.3"/><circle cx="852.1" cy="391.8"/><circle cx="671.9" cy="799.8"/><circle cx="579.8" cy="899.1"/><circle cx="579.3" cy="853.2"/><circle cx="971.0" cy="240.8"/><circle cx="1480.6" cy="874.9"/><circle cx="829.0" cy="419.8"/><circle cx="605.6" cy="880.0"/><circle cx="623.4" cy="831.7"/><circle cx="1137.0" cy="774.0"/><circle cx="786.0" cy="1181.3"/><circle cx="883.0" cy="282.4"/><circle cx="959.6" cy="462.3"/><circle cx="1520.6" cy="836.4"/><circle cx="627.9" cy="932.2"/><circle cx="837.6" cy="511.4"/><circle cx="562.4" cy="847.6"/><circle cx="863.7" cy="672.7"/><circle cx="738.0" cy="720.7"/><circle cx="700.7" cy="804.9"/><circle cx="947.7" cy="653.0"/><circle cx="754.5" cy="596.0"/><circle cx="743.4" cy="852.9"/><circle cx="598.6" cy="961.9"/><circle cx="712.5" cy="982.9"/><circle cx="1099.5" cy="757.5"/><circle cx="338.3" cy="673.6"/><circle cx="704.0" cy="562.0"/><circle cx="1666.7" cy="391.3"/><circle cx="1581.4" cy="801.4"/><circle cx="883.0" cy="708.0"/><circle cx="1175.0" cy="795.0"/><circle cx="1467.8" cy="880.6"/><circle cx="858.2" cy="290.4"/><circle cx="591.8" cy="829.1"/><circle cx="716.7" cy="739.5"/><circle cx="829.3" cy="1156.0"/><circle cx="1557.8" cy="879.2"/><circle cx="698.7" cy="1004.3"/><circle cx="883.3" cy="659.3"/><circle cx="873.8" cy="367.3"/><circle cx="616.1" cy="922.7"/><circle cx="713.6" cy="762.1"/><circle cx="625.5" cy="851.3"/><circle cx="810.7" cy="464.8"/><circle cx="1110.0" cy="817.8"/><circle cx="653.5" cy="890.6"/><circle cx="902.9" cy="575.9"/><circle cx="866.7" cy="502.6"/><circle cx="577.5" cy="809.4"/><circle cx="697.0" cy="874.9"/><circle cx="825.2" cy="639.4"/><circle cx="790.0" cy="681.7"/><circle cx="631.4" cy="988.8"/><circle cx="797.7" cy="789.4"/><circle cx="706.1" cy="912.7"/><circle cx="432.5" cy="742.1"/><circle cx="639.4" cy="872.5"/><circle cx="1658.0" cy="402.0"/><circle cx="1333.1" cy="837.3"/><circle cx="764.7" cy="1063.3"/><circle cx="1234.0" cy="977.0"/><circle cx="1624.9" cy="829.9"/><circle cx="682.8" cy="992.3"/><circle cx="426.9" cy="760.4"/><circle cx="1639.2" cy="806.4"/><circle cx="746.5" cy="834.5"/><circle cx="981.7" cy="693.0"/><circle cx="814.2" cy="451.9"/><circle cx="597.0" cy="981.7"/><circle cx="570.2" cy="944.1"/><circle cx="595.4" cy="956.4"/><circle cx="837.7" cy="660.7"/><circle cx="577.9" cy="856.4"/><circle cx="710.6" cy="929.9"/><circle cx="673.2" cy="902.2"/><circle cx="981.7" cy="681.0"/><circle cx="604.3" cy="932.5"/><circle cx="874.2" cy="309.6"/><circle cx="733.0" cy="958.8"/><circle cx="859.8" cy="435.2"/><circle cx="799.1" cy="1105.3"/><circle cx="814.0" cy="1179.3"/><circle cx="977.4" cy="246.8"/><circle cx="608.7" cy="815.1"/><circle cx="838.0" cy="534.6"/><circle cx="774.0" cy="595.0"/><circle cx="454.0" cy="771.6"/><circle cx="727.7" cy="1024.4"/><circle cx="1455.0" cy="811.4"/><circle cx="703.9" cy="938.7"/><circle cx="807.0" cy="792.9"/><circle cx="746.5" cy="1015.5"/><circle cx="956.3" cy="702.7"/><circle cx="804.0" cy="568.5"/><circle cx="914.0" cy="713.7"/><circle cx="654.2" cy="994.2"/><circle cx="1136.2" cy="1090.0"/><circle cx="1161.0" cy="802.0"/><circle cx="1184.0" cy="786.5"/><circle cx="716.2" cy="888.6"/><circle cx="1662.7" cy="348.0"/><circle cx="553.7" cy="881.3"/><circle cx="570.4" cy="932.9"/><circle cx="651.5" cy="570.0"/><circle cx="842.2" cy="455.0"/><circle cx="845.4" cy="311.2"/><circle cx="591.3" cy="862.1"/><circle cx="771.3" cy="1086.3"/><circle cx="666.5" cy="648.0"/><circle cx="1660.7" cy="408.7"/><circle cx="627.7" cy="804.7"/><circle cx="652.0" cy="664.0"/><circle cx="613.2" cy="815.9"/><circle cx="597.2" cy="962.4"/><circle cx="693.7" cy="769.8"/><circle cx="727.0" cy="847.1"/><circle cx="958.6" cy="271.6"/><circle cx="584.7" cy="936.2"/><circle cx="730.3" cy="868.7"/><circle cx="1248.0" cy="778.4"/><circle cx="1467.8" cy="875.6"/><circle cx="648.8" cy="1015.8"/><circle cx="1629.9" cy="789.3"/><circle cx="699.7" cy="1027.3"/><circle cx="868.6" cy="284.8"/><circle cx="866.0" cy="448.4"/><circle cx="650.6" cy="971.7"/><circle cx="673.4" cy="814.1"/><circle cx="1567.8" cy="849.2"/><circle cx="1620.0" cy="352.7"/><circle cx="796.7" cy="1160.0"/><circle cx="1544.1" cy="877.7"/><circle cx="483.3" cy="725.3"/><circle cx="943.8" cy="258.4"/><circle cx="818.0" cy="653.3"/><circle cx="831.6" cy="537.0"/><circle cx="635.1" cy="1016.4"/><circle cx="874.5" cy="369.4"/><circle cx="1119.4" cy="1050.8"/><circle cx="841.5" cy="513.5"/><circle cx="710.6" cy="783.6"/><circle cx="840.5" cy="383.4"/><circle cx="1392.0" cy="833.9"/><circle cx="745.1" cy="747.5"/><circle cx="529.4" cy="836.5"/><circle cx="1127.8" cy="1073.2"/><circle cx="718.9" cy="826.0"/><circle cx="641.7" cy="969.5"/><circle cx="670.1" cy="916.0"/><circle cx="1038.5" cy="751.5"/><circle cx="1220.0" cy="784.0"/><circle cx="951.0" cy="675.7"/><circle cx="1590.0" cy="736.8"/><circle cx="641.4" cy="958.7"/><circle cx="701.1" cy="952.1"/><circle cx="844.3" cy="712.0"/><circle cx="807.2" cy="454.0"/><circle cx="654.9" cy="902.9"/><circle cx="781.3" cy="1124.0"/><circle cx="865.3" cy="520.5"/><circle cx="570.6" cy="857.4"/><circle cx="948.3" cy="659.7"/><circle cx="677.5" cy="911.0"/><circle cx="718.2" cy="976.9"/><circle cx="669.7" cy="972.7"/><circle cx="637.2" cy="1013.5"/><circle cx="863.4" cy="276.8"/><circle cx="1642.7" cy="805.0"/><circle cx="846.8" cy="581.0"/><circle cx="775.3" cy="1108.0"/><circle cx="840.8" cy="531.0"/><circle cx="663.8" cy="909.9"/><circle cx="968.1" cy="590.8"/><circle cx="700.7" cy="1025.4"/><circle cx="659.5" cy="823.4"/><circle cx="1130.6" cy="1090.0"/><circle cx="959.6" cy="550.3"/><circle cx="1519.9" cy="840.6"/><circle cx="991.7" cy="663.7"/><circle cx="1493.8" cy="827.8"/><circle cx="624.5" cy="898.5"/><circle cx="1618.5" cy="798.2"/><circle cx="587.9" cy="875.1"/><circle cx="1360.6" cy="839.6"/><circle cx="811.4" cy="486.2"/><circle cx="1050.5" cy="747.5"/><circle cx="957.5" cy="532.7"/><circle cx="366.3" cy="696.0"/><circle cx="1603.5" cy="802.8"/><circle cx="524.8" cy="826.4"/><circle cx="694.6" cy="987.8"/><circle cx="656.0" cy="808.8"/><circle cx="890.4" cy="986.4"/><circle cx="1634.7" cy="386.0"/><circle cx="358.8" cy="596.1"/><circle cx="728.6" cy="935.9"/><circle cx="671.8" cy="776.7"/><circle cx="913.6" cy="972.4"/><circle cx="828.7" cy="1173.3"/><circle cx="1642.0" cy="739.8"/><circle cx="804.0" cy="568.6"/><circle cx="840.1" cy="482.0"/><circle cx="1220.8" cy="794.4"/><circle cx="1612.0" cy="327.3"/><circle cx="918.0" cy="719.7"/><circle cx="849.2" cy="449.4"/><circle cx="577.5" cy="815.7"/><circle cx="800.3" cy="787.5"/><circle cx="550.2" cy="905.6"/><circle cx="804.4" cy="491.1"/><circle cx="717.3" cy="936.7"/><circle cx="574.4" cy="886.0"/><circle cx="987.0" cy="687.0"/><circle cx="677.0" cy="625.0"/><circle cx="1504.9" cy="789.3"/><circle cx="599.9" cy="892.3"/><circle cx="963.0" cy="268.8"/><circle cx="697.0" cy="915.1"/><circle cx="785.7" cy="722.2"/><circle cx="851.7" cy="396.0"/><circle cx="871.0" cy="298.4"/><circle cx="828.0" cy="1164.0"/><circle cx="974.2" cy="239.6"/><circle cx="584.0" cy="804.8"/><circle cx="637.0" cy="930.9"/><circle cx="598.1" cy="929.1"/><circle cx="792.5" cy="475.0"/><circle cx="1579.2" cy="859.2"/><circle cx="818.0" cy="1156.0"/><circle cx="762.6" cy="1000.9"/><circle cx="764.2" cy="749.0"/><circle cx="927.6" cy="538.5"/><circle cx="822.6" cy="488.3"/><circle cx="818.4" cy="486.2"/><circle cx="1414.9" cy="813.3"/><circle cx="710.9" cy="776.3"/><circle cx="966.2" cy="265.6"/><circle cx="972.4" cy="565.2"/><circle cx="728.3" cy="825.8"/><circle cx="1503.5" cy="846.3"/><circle cx="713.2" cy="934.6"/><circle cx="322.4" cy="702.5"/><circle cx="1675.3" cy="350.3"/><circle cx="722.0" cy="906.0"/><circle cx="1647.6" cy="742.0"/><circle cx="509.4" cy="839.7"/><circle cx="634.3" cy="830.2"/><circle cx="1151.5" cy="795.0"/><circle cx="688.7" cy="909.0"/><circle cx="1172.0" cy="782.5"/><circle cx="717.6" cy="847.3"/><circle cx="1499.9" cy="873.4"/><circle cx="799.3" cy="698.7"/><circle cx="873.4" cy="302.4"/><circle cx="833.2" cy="643.4"/><circle cx="968.2" cy="272.0"/><circle cx="627.3" cy="770.5"/><circle cx="856.2" cy="339.2"/><circle cx="1336.0" cy="833.9"/><circle cx="975.8" cy="269.2"/><circle cx="1241.0" cy="959.6"/><circle cx="736.0" cy="1034.7"/><circle cx="1628.0" cy="351.3"/><circle cx="610.3" cy="918.6"/><circle cx="1284.0" cy="815.0"/><circle cx="770.3" cy="969.5"/><circle cx="844.0" cy="398.4"/><circle cx="710.8" cy="900.9"/><circle cx="654.0" cy="649.5"/><circle cx="842.4" cy="539.8"/><circle cx="920.1" cy="603.1"/><circle cx="804.9" cy="1118.0"/><circle cx="781.8" cy="955.7"/><circle cx="1598.7" cy="364.7"/><circle cx="613.8" cy="894.7"/><circle cx="1317.1" cy="813.3"/><circle cx="667.0" cy="1005.8"/><circle cx="672.2" cy="967.1"/><circle cx="704.1" cy="860.1"/><circle cx="981.7" cy="689.0"/><circle cx="1439.6" cy="838.5"/><circle cx="879.0" cy="682.0"/><circle cx="1449.3" cy="809.3"/><circle cx="634.3" cy="976.1"/><circle cx="847.6" cy="626.2"/><circle cx="598.7" cy="845.3"/><circle cx="711.7" cy="878.0"/><circle cx="1482.8" cy="879.2"/><circle cx="570.9" cy="846.8"/><circle cx="631.0" cy="828.1"/><circle cx="602.6" cy="979.6"/><circle cx="381.2" cy="623.8"/><circle cx="831.7" cy="715.3"/><circle cx="619.6" cy="863.2"/><circle cx="651.6" cy="858.0"/><circle cx="684.1" cy="850.1"/><circle cx="853.5" cy="439.0"/><circle cx="623.2" cy="827.3"/><circle cx="1145.3" cy="1109.6"/><circle cx="723.0" cy="572.5"/><circle cx="803.3" cy="1191.3"/><circle cx="572.6" cy="821.6"/><circle cx="336.4" cy="633.5"/><circle cx="641.5" cy="523.0"/><circle cx="656.6" cy="963.2"/><circle cx="1276.6" cy="823.0"/><circle cx="864.6" cy="455.0"/><circle cx="839.6" cy="588.2"/><circle cx="1338.3" cy="828.1"/><circle cx="953.7" cy="531.6"/><circle cx="707.0" cy="835.8"/><circle cx="747.4" cy="739.1"/><circle cx="724.4" cy="757.5"/><circle cx="727.2" cy="831.3"/><circle cx="1168.0" cy="795.0"/><circle cx="1453.2" cy="877.0"/><circle cx="676.7" cy="891.1"/><circle cx="766.1" cy="867.0"/><circle cx="1620.8" cy="778.0"/><circle cx="1256.0" cy="784.7"/><circle cx="865.4" cy="288.8"/><circle cx="880.1" cy="429.6"/><circle cx="1554.1" cy="795.0"/><circle cx="419.5" cy="756.7"/><circle cx="683.0" cy="1021.0"/><circle cx="717.5" cy="812.9"/><circle cx="873.8" cy="438.0"/><circle cx="469.9" cy="776.3"/><circle cx="556.3" cy="849.1"/><circle cx="906.8" cy="322.8"/><circle cx="597.3" cy="829.0"/><circle cx="840.0" cy="564.2"/><circle cx="951.7" cy="657.7"/><circle cx="845.0" cy="524.0"/><circle cx="569.3" cy="871.1"/><circle cx="593.1" cy="910.6"/><circle cx="727.3" cy="861.0"/><circle cx="875.0" cy="296.0"/><circle cx="730.5" cy="841.4"/><circle cx="845.4" cy="301.6"/><circle cx="1660.7" cy="369.6"/><circle cx="604.6" cy="994.0"/><circle cx="697.0" cy="558.0"/><circle cx="547.0" cy="831.4"/><circle cx="823.3" cy="1152.0"/><circle cx="1218.9" cy="958.3"/><circle cx="1221.1" cy="800.7"/><circle cx="853.4" cy="512.8"/><circle cx="784.0" cy="1087.3"/><circle cx="833.6" cy="593.0"/><circle cx="1263.4" cy="783.0"/><circle cx="730.7" cy="955.5"/><circle cx="827.2" cy="429.6"/><circle cx="732.1" cy="824.2"/><circle cx="553.0" cy="842.1"/><circle cx="354.1" cy="713.7"/><circle cx="788.7" cy="1184.7"/><circle cx="653.9" cy="863.0"/><circle cx="775.5" cy="607.0"/><circle cx="761.1" cy="818.1"/><circle cx="1340.0" cy="815.0"/><circle cx="722.0" cy="881.3"/><circle cx="1134.3" cy="902.6"/><circle cx="1230.9" cy="811.0"/><circle cx="975.0" cy="699.0"/><circle cx="925.5" cy="541.7"/><circle cx="618.4" cy="864.6"/><circle cx="779.8" cy="828.8"/><circle cx="628.7" cy="1000.9"/><circle cx="1476.4" cy="856.3"/><circle cx="735.6" cy="999.8"/><circle cx="741.9" cy="826.8"/><circle cx="943.0" cy="678.3"/><circle cx="337.3" cy="698.8"/><circle cx="1150.2" cy="1088.9"/><circle cx="1426.9" cy="827.6"/><circle cx="1395.4" cy="850.4"/><circle cx="1409.1" cy="829.3"/><circle cx="1071.0" cy="767.5"/><circle cx="783.3" cy="974.8"/><circle cx="875.8" cy="347.2"/><circle cx="553.2" cy="858.7"/><circle cx="1539.8" cy="852.4"/><circle cx="605.2" cy="839.4"/><circle cx="663.0" cy="547.5"/><circle cx="1142.5" cy="1093.5"/><circle cx="328.9" cy="703.5"/><circle cx="346.7" cy="680.1"/><circle cx="1652.0" cy="347.1"/><circle cx="638.9" cy="841.5"/><circle cx="643.3" cy="990.7"/><circle cx="1088.0" cy="751.0"/><circle cx="808.3" cy="670.7"/><circle cx="818.0" cy="1166.0"/><circle cx="1508.8" cy="860.6"/><circle cx="627.8" cy="940.6"/><circle cx="781.8" cy="1000.9"/><circle cx="1132.0" cy="1083.0"/><circle cx="694.0" cy="610.5"/><circle cx="498.8" cy="830.4"/><circle cx="769.6" cy="719.1"/><circle cx="654.9" cy="845.3"/><circle cx="861.7" cy="658.7"/><circle cx="679.1" cy="964.0"/><circle cx="1641.3" cy="372.0"/><circle cx="624.4" cy="921.6"/><circle cx="1483.5" cy="824.9"/><circle cx="676.7" cy="956.7"/><circle cx="832.8" cy="552.6"/><circle cx="933.7" cy="662.3"/><circle cx="962.2" cy="252.0"/><circle cx="719.9" cy="799.8"/><circle cx="609.3" cy="851.8"/><circle cx="663.3" cy="816.0"/><circle cx="1446.4" cy="839.2"/><circle cx="1157.5" cy="798.0"/><circle cx="1618.5" cy="859.9"/><circle cx="658.7" cy="876.9"/><circle cx="703.4" cy="793.6"/><circle cx="839.8" cy="372.9"/><circle cx="806.5" cy="468.0"/><circle cx="1227.4" cy="778.4"/><circle cx="1492.0" cy="832.1"/><circle cx="1614.9" cy="856.3"/><circle cx="1378.3" cy="837.3"/><circle cx="326.1" cy="693.2"/><circle cx="1661.3" cy="403.3"/><circle cx="875.9" cy="348.4"/><circle cx="964.3" cy="646.3"/><circle cx="1564.7" cy="337.7"/><circle cx="911.7" cy="684.3"/><circle cx="863.8" cy="330.8"/><circle cx="728.6" cy="1001.6"/><circle cx="1303.4" cy="832.7"/><circle cx="634.5" cy="981.3"/><circle cx="947.4" cy="258.0"/><circle cx="928.7" cy="716.3"/><circle cx="720.7" cy="879.0"/><circle cx="793.4" cy="723.7"/><circle cx="1170.0" cy="797.0"/><circle cx="681.1" cy="811.9"/><circle cx="861.8" cy="452.6"/><circle cx="602.0" cy="913.7"/><circle cx="1641.3" cy="346.0"/><circle cx="781.1" cy="799.0"/><circle cx="682.5" cy="861.2"/><circle cx="597.7" cy="940.2"/><circle cx="965.0" cy="1088.0"/><circle cx="1565.0" cy="837.8"/><circle cx="533.6" cy="804.9"/><circle cx="1599.2" cy="816.4"/><circle cx="1644.7" cy="370.7"/><circle cx="643.7" cy="929.7"/><circle cx="727.9" cy="868.0"/><circle cx="898.3" cy="674.0"/><circle cx="966.2" cy="246.4"/><circle cx="834.3" cy="737.3"/><circle cx="820.9" cy="424.7"/><circle cx="695.0" cy="1022.3"/><circle cx="855.0" cy="722.0"/><circle cx="894.6" cy="339.2"/><circle cx="706.7" cy="1056.7"/><circle cx="1467.1" cy="870.6"/><circle cx="1506.3" cy="870.6"/><circle cx="661.2" cy="845.5"/><circle cx="1553.4" cy="877.0"/><circle cx="670.0" cy="579.0"/><circle cx="786.1" cy="743.7"/><circle cx="948.3" cy="680.3"/><circle cx="1587.1" cy="806.4"/><circle cx="634.7" cy="724.7"/><circle cx="599.7" cy="854.0"/><circle cx="589.4" cy="935.4"/><circle cx="660.5" cy="855.4"/><circle cx="774.7" cy="1100.0"/><circle cx="684.0" cy="966.0"/><circle cx="1458.5" cy="827.8"/><circle cx="689.4" cy="1010.8"/><circle cx="686.0" cy="812.8"/><circle cx="581.2" cy="957.7"/><circle cx="618.1" cy="967.6"/><circle cx="1507.4" cy="837.4"/><circle cx="562.7" cy="884.9"/><circle cx="938.3" cy="534.3"/><circle cx="685.4" cy="806.5"/><circle cx="859.0" cy="721.3"/><circle cx="720.5" cy="823.0"/><circle cx="379.3" cy="595.2"/><circle cx="676.0" cy="792.0"/><circle cx="867.0" cy="290.4"/><circle cx="897.0" cy="274.8"/><circle cx="544.2" cy="855.0"/><circle cx="697.1" cy="983.1"/><circle cx="770.4" cy="756.0"/><circle cx="1122.2" cy="1076.0"/><circle cx="859.0" cy="286.4"/><circle cx="1636.0" cy="404.0"/><circle cx="599.7" cy="898.2"/><circle cx="1718.0" cy="297.3"/><circle cx="881.5" cy="433.8"/><circle cx="873.0" cy="690.7"/><circle cx="980.6" cy="933.6"/><circle cx="1499.2" cy="869.9"/><circle cx="852.8" cy="407.2"/><circle cx="781.0" cy="973.3"/><circle cx="671.0" cy="843.7"/><circle cx="1464.6" cy="803.2"/><circle cx="1570.7" cy="849.2"/><circle cx="665.0" cy="793.0"/><circle cx="828.3" cy="736.0"/><circle cx="782.6" cy="705.3"/><circle cx="717.0" cy="573.5"/><circle cx="893.0" cy="705.3"/><circle cx="555.2" cy="823.4"/><circle cx="970.3" cy="666.7"/><circle cx="670.1" cy="816.2"/><circle cx="896.8" cy="637.0"/><circle cx="617.3" cy="797.0"/><circle cx="872.3" cy="679.3"/><circle cx="455.9" cy="772.5"/><circle cx="773.3" cy="948.3"/><circle cx="1551.2" cy="807.8"/><circle cx="843.6" cy="495.3"/><circle cx="534.4" cy="817.3"/><circle cx="1593.5" cy="852.8"/><circle cx="501.6" cy="800.5"/><circle cx="824.0" cy="475.7"/><circle cx="1400.0" cy="837.3"/><circle cx="342.9" cy="704.4"/><circle cx="482.6" cy="772.9"/><circle cx="1134.8" cy="1095.6"/><circle cx="836.8" cy="543.4"/><circle cx="968.6" cy="244.0"/><circle cx="726.7" cy="1006.2"/><circle cx="714.8" cy="759.0"/><circle cx="778.7" cy="858.0"/><circle cx="1381.1" cy="846.4"/><circle cx="1448.5" cy="803.5"/><circle cx="644.0" cy="701.0"/><circle cx="818.1" cy="437.6"/><circle cx="1472.1" cy="818.2"/><circle cx="895.4" cy="345.2"/><circle cx="565.2" cy="833.5"/><circle cx="826.8" cy="560.6"/><circle cx="1211.8" cy="942.4"/><circle cx="1157.8" cy="769.5"/><circle cx="1553.4" cy="842.1"/><circle cx="671.0" cy="1002.8"/><circle cx="1377.7" cy="842.4"/><circle cx="868.3" cy="705.3"/><circle cx="728.0" cy="854.4"/><circle cx="685.0" cy="869.0"/><circle cx="831.0" cy="446.3"/><circle cx="1649.9" cy="829.2"/><circle cx="493.2" cy="808.0"/><circle cx="746.0" cy="1066.7"/><circle cx="713.4" cy="990.4"/><circle cx="393.3" cy="728.7"/><circle cx="792.7" cy="1129.3"/><circle cx="1522.4" cy="787.9"/><circle cx="1252.0" cy="773.3"/><circle cx="714.8" cy="995.5"/><circle cx="581.2" cy="825.0"/><circle cx="886.4" cy="445.0"/><circle cx="971.0" cy="266.4"/><circle cx="1190.0" cy="797.0"/><circle cx="644.1" cy="952.4"/><circle cx="558.9" cy="870.8"/><circle cx="842.2" cy="479.2"/><circle cx="863.7" cy="700.0"/><circle cx="722.0" cy="987.1"/><circle cx="415.7" cy="722.7"/><circle cx="662.7" cy="907.9"/><circle cx="639.0" cy="899.2"/><circle cx="862.2" cy="314.4"/><circle cx="818.9" cy="739.2"/><circle cx="651.2" cy="843.5"/><circle cx="353.2" cy="609.2"/><circle cx="845.2" cy="573.4"/><circle cx="765.7" cy="1014.7"/><circle cx="662.0" cy="539.0"/><circle cx="842.7" cy="751.5"/><circle cx="810.8" cy="783.9"/><circle cx="856.6" cy="304.0"/><circle cx="1568.5" cy="841.3"/><circle cx="1455.7" cy="819.2"/><circle cx="875.0" cy="332.8"/><circle cx="386.8" cy="728.3"/><circle cx="630.5" cy="792.7"/><circle cx="592.2" cy="970.9"/><circle cx="1004.3" cy="679.0"/><circle cx="665.5" cy="597.0"/><circle cx="1673.3" cy="410.0"/><circle cx="861.9" cy="376.4"/><circle cx="823.6" cy="456.4"/><circle cx="1644.1" cy="817.1"/><circle cx="546.7" cy="823.7"/><circle cx="539.3" cy="840.2"/><circle cx="854.5" cy="420.1"/><circle cx="1674.7" cy="359.1"/><circle cx="960.6" cy="254.4"/><circle cx="626.1" cy="819.9"/><circle cx="800.7" cy="1163.3"/><circle cx="675.6" cy="848.3"/><circle cx="768.0" cy="852.9"/><circle cx="1710.0" cy="299.3"/><circle cx="440.0" cy="764.1"/><circle cx="677.2" cy="842.2"/><circle cx="778.7" cy="850.9"/><circle cx="793.8" cy="782.0"/><circle cx="1630.7" cy="347.3"/><circle cx="771.3" cy="1124.7"/><circle cx="361.6" cy="700.7"/><circle cx="664.0" cy="613.0"/><circle cx="796.0" cy="465.9"/><circle cx="711.1" cy="953.0"/><circle cx="817.0" cy="483.4"/><circle cx="1107.5" cy="779.5"/><circle cx="748.0" cy="1008.3"/><circle cx="630.2" cy="952.7"/><circle cx="1162.5" cy="778.0"/><circle cx="855.0" cy="285.6"/><circle cx="589.2" cy="969.4"/><circle cx="627.3" cy="804.8"/><circle cx="637.8" cy="962.4"/><circle cx="923.8" cy="267.4"/><circle cx="1487.8" cy="827.8"/><circle cx="481.1" cy="805.2"/><circle cx="704.9" cy="882.5"/><circle cx="1107.8" cy="1034.3"/><circle cx="726.9" cy="915.3"/><circle cx="865.4" cy="318.4"/><circle cx="1167.5" cy="790.5"/><circle cx="812.5" cy="679.4"/><circle cx="525.1" cy="828.9"/><circle cx="840.2" cy="409.3"/><circle cx="579.6" cy="918.8"/><circle cx="639.4" cy="879.0"/><circle cx="538.7" cy="822.7"/><circle cx="1149.8" cy="1118.7"/><circle cx="1385.1" cy="832.7"/><circle cx="836.7" cy="425.4"/><circle cx="1619.2" cy="845.6"/><circle cx="652.0" cy="536.0"/><circle cx="1646.3" cy="798.6"/><circle cx="1206.8" cy="791.0"/><circle cx="810.4" cy="1130.9"/><circle cx="963.3" cy="594.5"/><circle cx="804.5" cy="626.0"/><circle cx="457.7" cy="773.5"/><circle cx="616.7" cy="803.3"/><circle cx="714.7" cy="806.1"/><circle cx="728.6" cy="796.2"/><circle cx="1569.3" cy="820.7"/><circle cx="1591.4" cy="813.5"/><circle cx="692.0" cy="558.0"/><circle cx="848.3" cy="714.7"/><circle cx="570.4" cy="890.1"/><circle cx="940.4" cy="641.0"/><circle cx="827.6" cy="539.8"/><circle cx="1642.9" cy="328.3"/><circle cx="815.7" cy="710.7"/><circle cx="968.3" cy="678.3"/><circle cx="895.6" cy="536.4"/><circle cx="665.5" cy="861.3"/><circle cx="603.9" cy="824.6"/><circle cx="1401.1" cy="832.7"/><circle cx="608.6" cy="864.1"/><circle cx="709.9" cy="1012.6"/><circle cx="555.4" cy="891.8"/><circle cx="646.7" cy="989.8"/><circle cx="776.7" cy="1143.3"/><circle cx="1523.8" cy="877.0"/><circle cx="861.4" cy="291.2"/><circle cx="858.3" cy="700.0"/><circle cx="667.6" cy="789.7"/><circle cx="767.2" cy="971.0"/><circle cx="843.2" cy="516.3"/><circle cx="589.4" cy="915.3"/><circle cx="866.3" cy="483.0"/><circle cx="829.7" cy="401.6"/><circle cx="725.7" cy="805.7"/><circle cx="553.4" cy="917.4"/><circle cx="615.4" cy="916.8"/><circle cx="893.7" cy="688.0"/><circle cx="688.8" cy="1032.9"/><circle cx="1583.9" cy="837.8"/><circle cx="771.8" cy="1004.0"/><circle cx="786.3" cy="703.3"/><circle cx="934.0" cy="556.7"/><circle cx="676.0" cy="623.0"/><circle cx="689.0" cy="602.2"/><circle cx="570.2" cy="851.2"/><circle cx="1618.0" cy="360.4"/><circle cx="568.8" cy="806.9"/><circle cx="766.5" cy="723.7"/><circle cx="894.9" cy="413.5"/><circle cx="888.6" cy="305.6"/><circle cx="1283.1" cy="805.1"/><circle cx="568.5" cy="776.4"/><circle cx="955.0" cy="683.7"/><circle cx="834.4" cy="583.4"/><circle cx="1125.0" cy="1079.5"/><circle cx="1235.4" cy="819.0"/><circle cx="1488.5" cy="858.8"/><circle cx="599.6" cy="798.4"/><circle cx="731.9" cy="820.1"/><circle cx="1568.5" cy="823.5"/><circle cx="802.7" cy="1168.7"/><circle cx="854.8" cy="746.9"/><circle cx="1163.0" cy="799.0"/><circle cx="1626.7" cy="841.3"/><circle cx="591.6" cy="831.8"/><circle cx="541.5" cy="842.8"/><circle cx="543.6" cy="831.7"/><circle cx="835.2" cy="455.4"/><circle cx="1411.4" cy="832.7"/><circle cx="591.1" cy="846.6"/><circle cx="634.0" cy="531.5"/><circle cx="671.0" cy="584.0"/><circle cx="1529.9" cy="795.0"/><circle cx="582.3" cy="843.3"/><circle cx="1329.1" cy="828.1"/><circle cx="1405.7" cy="828.1"/><circle cx="726.0" cy="1042.0"/><circle cx="898.2" cy="282.4"/><circle cx="1445.3" cy="820.3"/><circle cx="1613.5" cy="847.8"/><circle cx="571.8" cy="849.9"/><circle cx="702.9" cy="921.5"/><circle cx="657.0" cy="526.5"/><circle cx="1126.7" cy="1061.3"/><circle cx="656.3" cy="815.2"/><circle cx="984.3" cy="685.0"/><circle cx="645.0" cy="922.1"/><circle cx="1666.7" cy="345.7"/><circle cx="772.7" cy="745.2"/><circle cx="511.9" cy="808.9"/><circle cx="1676.7" cy="382.0"/><circle cx="835.0" cy="710.0"/><circle cx="868.2" cy="444.3"/><circle cx="830.0" cy="1188.7"/><circle cx="830.0" cy="433.4"/><circle cx="821.3" cy="1199.3"/><circle cx="740.5" cy="788.9"/><circle cx="789.5" cy="726.8"/><circle cx="443.2" cy="766.6"/><circle cx="341.1" cy="649.3"/><circle cx="1538.4" cy="880.6"/><circle cx="949.5" cy="565.7"/><circle cx="873.4" cy="292.0"/><circle cx="781.0" cy="984.8"/><circle cx="820.7" cy="1069.3"/><circle cx="1223.2" cy="960.0"/><circle cx="691.0" cy="939.5"/><circle cx="627.3" cy="952.5"/><circle cx="923.0" cy="693.0"/><circle cx="725.8" cy="920.2"/><circle cx="764.2" cy="736.8"/><circle cx="648.5" cy="881.9"/><circle cx="623.7" cy="994.3"/><circle cx="484.8" cy="802.4"/><circle cx="1447.3" cy="797.5"/><circle cx="631.6" cy="810.8"/><circle cx="711.7" cy="814.2"/><circle cx="731.9" cy="970.6"/><circle cx="1629.2" cy="846.3"/><circle cx="689.6" cy="925.0"/><circle cx="628.4" cy="907.3"/><circle cx="538.4" cy="862.8"/><circle cx="1441.8" cy="802.5"/><circle cx="725.2" cy="965.2"/><circle cx="648.6" cy="815.5"/><circle cx="861.4" cy="311.2"/><circle cx="697.8" cy="897.7"/><circle cx="857.7" cy="410.7"/><circle cx="804.8" cy="625.8"/><circle cx="1316.6" cy="817.9"/><circle cx="951.6" cy="572.7"/><circle cx="850.3" cy="352.2"/><circle cx="594.4" cy="836.3"/><circle cx="831.6" cy="597.0"/><circle cx="1504.2" cy="876.3"/><circle cx="846.5" cy="402.3"/><circle cx="1528.1" cy="864.9"/><circle cx="656.5" cy="905.8"/><circle cx="814.3" cy="417.7"/><circle cx="659.6" cy="761.3"/><circle cx="665.8" cy="876.4"/><circle cx="761.8" cy="1009.4"/><circle cx="665.1" cy="895.5"/><circle cx="877.0" cy="686.0"/><circle cx="843.0" cy="403.0"/><circle cx="703.9" cy="850.3"/><circle cx="374.7" cy="729.0"/><circle cx="637.7" cy="787.1"/><circle cx="723.8" cy="877.4"/><circle cx="665.8" cy="819.7"/><circle cx="943.6" cy="552.4"/><circle cx="844.4" cy="561.8"/><circle cx="1156.0" cy="933.6"/><circle cx="1547.7" cy="872.7"/><circle cx="644.3" cy="808.3"/><circle cx="660.0" cy="561.0"/><circle cx="815.3" cy="1185.3"/><circle cx="744.0" cy="1091.3"/><circle cx="976.7" cy="562.0"/><circle cx="610.2" cy="967.7"/><circle cx="623.9" cy="992.1"/><circle cx="565.4" cy="873.5"/><circle cx="1608.0" cy="328.0"/><circle cx="961.4" cy="258.4"/><circle cx="1634.9" cy="822.1"/><circle cx="781.3" cy="1162.0"/><circle cx="850.6" cy="457.5"/><circle cx="627.2" cy="940.9"/><circle cx="579.4" cy="913.9"/><circle cx="904.7" cy="729.3"/><circle cx="1250.3" cy="808.7"/><circle cx="1535.6" cy="832.1"/><circle cx="980.9" cy="556.7"/><circle cx="779.6" cy="1073.7"/><circle cx="1442.1" cy="845.6"/><circle cx="769.3" cy="1065.7"/><circle cx="691.7" cy="940.2"/><circle cx="961.7" cy="667.0"/><circle cx="634.3" cy="891.5"/><circle cx="839.4" cy="469.4"/><circle cx="1581.0" cy="746.7"/><circle cx="750.0" cy="930.7"/><circle cx="811.0" cy="720.0"/><circle cx="832.0" cy="601.4"/><circle cx="814.6" cy="771.3"/><circle cx="564.8" cy="829.0"/><circle cx="885.7" cy="708.7"/><circle cx="1103.0" cy="768.0"/><circle cx="703.5" cy="993.6"/><circle cx="1247.4" cy="824.7"/><circle cx="685.2" cy="883.1"/><circle cx="732.6" cy="830.9"/><circle cx="628.0" cy="718.0"/><circle cx="697.5" cy="771.3"/><circle cx="743.5" cy="606.0"/><circle cx="561.1" cy="940.7"/><circle cx="691.5" cy="593.0"/><circle cx="718.6" cy="874.3"/><circle cx="709.5" cy="611.3"/><circle cx="713.8" cy="847.7"/><circle cx="1577.1" cy="807.1"/><circle cx="649.0" cy="539.0"/><circle cx="640.0" cy="694.0"/><circle cx="488.5" cy="798.7"/><circle cx="719.6" cy="822.6"/><circle cx="551.9" cy="786.3"/><circle cx="964.4" cy="562.5"/><circle cx="536.5" cy="870.3"/><circle cx="1498.5" cy="856.3"/><circle cx="877.6" cy="412.1"/><circle cx="714.4" cy="891.5"/><circle cx="568.1" cy="855.8"/><circle cx="1676.0" cy="386.7"/><circle cx="391.5" cy="726.8"/><circle cx="902.3" cy="648.7"/><circle cx="1370.1" cy="811.2"/><circle cx="568.6" cy="894.3"/><circle cx="646.0" cy="680.0"/><circle cx="603.7" cy="923.9"/><circle cx="788.7" cy="1147.3"/><circle cx="861.7" cy="704.0"/><circle cx="1580.7" cy="815.0"/><circle cx="716.7" cy="953.9"/><circle cx="676.5" cy="551.0"/><circle cx="636.0" cy="711.0"/><circle cx="1590.6" cy="859.2"/><circle cx="616.4" cy="1002.8"/><circle cx="902.3" cy="664.7"/><circle cx="1388.6" cy="835.0"/><circle cx="1616.3" cy="850.6"/><circle cx="735.4" cy="938.6"/><circle cx="853.4" cy="334.4"/><circle cx="703.9" cy="831.1"/><circle cx="1110.3" cy="919.7"/><circle cx="720.5" cy="775.1"/><circle cx="436.8" cy="754.2"/><circle cx="679.4" cy="1030.9"/><circle cx="984.3" cy="695.7"/><circle cx="1124.3" cy="1064.4"/><circle cx="978.3" cy="687.0"/><circle cx="890.3" cy="604.1"/><circle cx="1441.0" cy="861.7"/><circle cx="628.4" cy="885.0"/><circle cx="657.0" cy="576.5"/><circle cx="536.2" cy="866.0"/><circle cx="342.0" cy="691.3"/><circle cx="915.0" cy="679.0"/><circle cx="1096.1" cy="1002.0"/><circle cx="1476.4" cy="877.7"/><circle cx="796.7" cy="460.3"/><circle cx="1188.5" cy="790.5"/><circle cx="847.6" cy="759.5"/><circle cx="592.4" cy="825.6"/><circle cx="908.3" cy="725.0"/><circle cx="1153.5" cy="779.5"/><circle cx="1221.7" cy="783.6"/><circle cx="1706.7" cy="306.0"/><circle cx="680.0" cy="629.5"/><circle cx="1116.9" cy="1053.2"/><circle cx="829.2" cy="641.0"/><circle cx="869.4" cy="317.6"/><circle cx="817.7" cy="665.3"/><circle cx="860.4" cy="994.7"/><circle cx="713.6" cy="807.4"/><circle cx="892.9" cy="535.3"/><circle cx="833.0" cy="679.3"/><circle cx="1594.9" cy="810.0"/><circle cx="337.3" cy="615.7"/><circle cx="623.0" cy="953.1"/><circle cx="955.0" cy="697.0"/><circle cx="797.2" cy="787.4"/><circle cx="699.4" cy="944.6"/><circle cx="690.7" cy="919.8"/><circle cx="769.5" cy="1007.8"/><circle cx="609.2" cy="778.7"/><circle cx="914.3" cy="570.0"/><circle cx="818.7" cy="1192.0"/><circle cx="747.0" cy="948.0"/><circle cx="878.0" cy="442.9"/><circle cx="815.6" cy="476.7"/><circle cx="853.4" cy="516.3"/><circle cx="733.3" cy="940.0"/><circle cx="404.5" cy="734.3"/><circle cx="820.9" cy="415.9"/><circle cx="640.6" cy="902.4"/><circle cx="1628.7" cy="363.3"/><circle cx="707.9" cy="871.2"/><circle cx="720.0" cy="975.0"/><circle cx="633.1" cy="799.0"/><circle cx="374.7" cy="603.6"/><circle cx="968.0" cy="1091.0"/><circle cx="662.2" cy="803.2"/><circle cx="926.3" cy="686.3"/><circle cx="836.6" cy="470.8"/><circle cx="659.5" cy="806.0"/><circle cx="575.8" cy="807.5"/><circle cx="770.0" cy="1108.7"/><circle cx="971.3" cy="535.3"/><circle cx="888.5" cy="433.4"/><circle cx="336.8" cy="661.5"/><circle cx="562.9" cy="818.1"/><circle cx="728.9" cy="960.9"/><circle cx="719.3" cy="936.2"/><circle cx="622.9" cy="800.2"/><circle cx="669.0" cy="569.0"/><circle cx="655.0" cy="881.8"/><circle cx="804.7" cy="1088.7"/><circle cx="739.6" cy="955.2"/><circle cx="572.9" cy="902.1"/><circle cx="868.7" cy="393.7"/><circle cx="920.6" cy="966.0"/><circle cx="615.1" cy="834.2"/><circle cx="1054.0" cy="756.5"/><circle cx="702.3" cy="1044.7"/><circle cx="675.0" cy="594.0"/><circle cx="384.9" cy="699.7"/><circle cx="1130.0" cy="852.0"/><circle cx="590.2" cy="918.5"/><circle cx="504.9" cy="808.6"/><circle cx="839.4" cy="475.0"/><circle cx="712.0" cy="860.1"/><circle cx="1587.8" cy="743.0"/><circle cx="837.4" cy="410.7"/><circle cx="979.6" cy="942.9"/><circle cx="799.3" cy="1171.3"/><circle cx="909.0" cy="706.0"/><circle cx="664.5" cy="929.1"/><circle cx="1513.8" cy="845.3"/><circle cx="474.5" cy="789.3"/><circle cx="810.0" cy="1140.7"/><circle cx="577.2" cy="905.0"/><circle cx="719.9" cy="836.7"/><circle cx="696.6" cy="882.5"/><circle cx="877.5" cy="588.7"/><circle cx="560.6" cy="872.7"/><circle cx="688.2" cy="825.5"/><circle cx="770.3" cy="841.4"/><circle cx="680.5" cy="579.0"/><circle cx="867.4" cy="451.9"/><circle cx="1314.3" cy="828.1"/><circle cx="1572.7" cy="332.9"/><circle cx="869.4" cy="308.8"/><circle cx="1577.8" cy="739.0"/><circle cx="387.7" cy="713.7"/><circle cx="577.2" cy="961.1"/><circle cx="922.0" cy="989.0"/><circle cx="660.7" cy="672.0"/><circle cx="968.2" cy="237.6"/><circle cx="856.5" cy="497.0"/><circle cx="1155.0" cy="777.0"/><circle cx="891.6" cy="397.4"/><circle cx="631.9" cy="1000.1"/><circle cx="559.3" cy="900.5"/><circle cx="491.3" cy="792.1"/><circle cx="892.4" cy="547.9"/><circle cx="953.7" cy="679.7"/><circle cx="990.3" cy="675.0"/><circle cx="745.0" cy="874.4"/><circle cx="879.8" cy="335.2"/><circle cx="641.2" cy="851.9"/><circle cx="838.0" cy="458.2"/><circle cx="636.5" cy="922.1"/><circle cx="572.4" cy="952.6"/><circle cx="720.0" cy="1051.3"/><circle cx="749.9" cy="859.0"/><circle cx="1097.0" cy="765.0"/><circle cx="1224.0" cy="807.2"/><circle cx="787.1" cy="836.5"/><circle cx="618.7" cy="995.8"/><circle cx="727.6" cy="848.2"/><circle cx="977.2" cy="546.0"/><circle cx="699.0" cy="747.5"/><circle cx="582.7" cy="896.2"/><circle cx="664.5" cy="537.0"/><circle cx="423.2" cy="758.5"/><circle cx="1112.4" cy="1035.0"/><circle cx="639.3" cy="970.4"/><circle cx="898.6" cy="550.8"/><circle cx="647.4" cy="905.0"/><circle cx="1297.1" cy="821.3"/><circle cx="1617.8" cy="854.9"/><circle cx="808.0" cy="1188.7"/><circle cx="676.4" cy="855.2"/><circle cx="577.5" cy="933.0"/><circle cx="677.4" cy="756.3"/><circle cx="686.3" cy="798.0"/><circle cx="1445.7" cy="868.5"/><circle cx="1284.6" cy="828.7"/><circle cx="963.0" cy="245.6"/><circle cx="1433.2" cy="816.4"/><circle cx="755.8" cy="780.5"/><circle cx="658.7" cy="892.9"/><circle cx="971.0" cy="1093.6"/><circle cx="1328.0" cy="812.1"/><circle cx="583.4" cy="905.8"/><circle cx="1489.2" cy="822.8"/><circle cx="789.3" cy="1176.0"/><circle cx="649.4" cy="876.0"/><circle cx="541.1" cy="793.6"/><circle cx="638.1" cy="871.4"/><circle cx="756.0" cy="1114.0"/><circle cx="730.0" cy="1034.7"/><circle cx="867.5" cy="998.6"/><circle cx="771.9" cy="724.5"/><circle cx="643.1" cy="1011.4"/><circle cx="749.4" cy="794.5"/><circle cx="549.1" cy="914.8"/><circle cx="767.3" cy="753.7"/><circle cx="857.6" cy="610.2"/><circle cx="514.7" cy="803.3"/><circle cx="682.3" cy="829.6"/><circle cx="863.8" cy="308.0"/><circle cx="1179.0" cy="798.0"/><circle cx="678.1" cy="888.9"/><circle cx="812.2" cy="790.8"/><circle cx="1453.5" cy="803.5"/><circle cx="702.1" cy="845.8"/><circle cx="882.3" cy="597.2"/><circle cx="1602.1" cy="870.6"/><circle cx="710.4" cy="963.9"/><circle cx="1477.1" cy="817.8"/><circle cx="844.4" cy="536.2"/><circle cx="1465.7" cy="816.4"/><circle cx="784.1" cy="963.8"/><circle cx="870.2" cy="283.2"/><circle cx="647.7" cy="790.5"/><circle cx="1180.0" cy="789.0"/><circle cx="1202.0" cy="798.0"/><circle cx="593.4" cy="934.2"/><circle cx="535.8" cy="846.0"/><circle cx="875.9" cy="595.6"/><circle cx="1108.5" cy="763.8"/><circle cx="828.3" cy="660.3"/><circle cx="780.7" cy="1155.3"/><circle cx="695.2" cy="745.2"/><circle cx="945.7" cy="567.9"/><circle cx="804.7" cy="1147.3"/><circle cx="1115.2" cy="1048.7"/><circle cx="356.9" cy="688.0"/><circle cx="554.8" cy="794.0"/><circle cx="814.2" cy="482.0"/><circle cx="607.5" cy="954.7"/><circle cx="964.6" cy="255.2"/><circle cx="646.3" cy="809.4"/><circle cx="1589.2" cy="810.0"/><circle cx="1622.4" cy="818.5"/><circle cx="1209.0" cy="810.0"/><circle cx="940.7" cy="711.0"/><circle cx="645.5" cy="991.4"/><circle cx="845.7" cy="486.2"/><circle cx="760.0" cy="1104.7"/><circle cx="1122.0" cy="788.8"/><circle cx="727.2" cy="950.0"/><circle cx="866.8" cy="562.0"/><circle cx="1262.3" cy="809.9"/><circle cx="836.6" cy="477.8"/><circle cx="856.6" cy="316.8"/><circle cx="805.3" cy="1138.7"/><circle cx="632.0" cy="984.2"/><circle cx="752.6" cy="1007.8"/><circle cx="608.4" cy="934.0"/><circle cx="646.5" cy="888.0"/><circle cx="1042.0" cy="744.5"/><circle cx="545.3" cy="818.4"/><circle cx="468.9" cy="779.1"/><circle cx="673.0" cy="581.0"/><circle cx="853.6" cy="593.6"/><circle cx="696.0" cy="954.9"/><circle cx="603.4" cy="876.3"/><circle cx="361.6" cy="658.7"/><circle cx="733.2" cy="731.0"/><circle cx="552.0" cy="807.3"/><circle cx="806.5" cy="487.6"/><circle cx="945.0" cy="965.4"/><circle cx="731.6" cy="788.9"/><circle cx="835.0" cy="672.0"/><circle cx="850.8" cy="640.6"/><circle cx="1004.3" cy="664.3"/><circle cx="935.0" cy="697.7"/><circle cx="622.8" cy="954.8"/><circle cx="927.7" cy="661.0"/><circle cx="661.7" cy="827.8"/><circle cx="1129.2" cy="1097.7"/><circle cx="762.6" cy="854.9"/><circle cx="835.3" cy="420.1"/><circle cx="1262.3" cy="788.1"/><circle cx="887.4" cy="415.2"/><circle cx="638.4" cy="990.1"/><circle cx="651.6" cy="902.3"/><circle cx="663.3" cy="1017.8"/><circle cx="566.5" cy="932.2"/><circle cx="957.5" cy="541.7"/><circle cx="542.3" cy="860.2"/><circle cx="1340.0" cy="825.9"/><circle cx="1642.0" cy="795.0"/><circle cx="720.2" cy="840.6"/><circle cx="940.9" cy="532.1"/><circle cx="688.5" cy="612.0"/><circle cx="734.7" cy="769.4"/><circle cx="610.4" cy="960.9"/><circle cx="893.2" cy="620.2"/><circle cx="428.8" cy="761.9"/><circle cx="1449.3" cy="827.8"/><circle cx="779.8" cy="813.3"/><circle cx="707.3" cy="946.2"/><circle cx="951.1" cy="543.9"/><circle cx="966.0" cy="557.7"/><circle cx="770.0" cy="934.7"/><circle cx="953.2" cy="550.3"/><circle cx="858.3" cy="689.3"/><circle cx="796.7" cy="1190.0"/><circle cx="845.7" cy="491.1"/><circle cx="987.0" cy="683.0"/><circle cx="851.0" cy="1003.5"/><circle cx="959.8" cy="248.8"/><circle cx="582.0" cy="829.6"/><circle cx="870.9" cy="452.6"/><circle cx="634.1" cy="846.9"/><circle cx="471.7" cy="794.9"/><circle cx="607.2" cy="855.7"/><circle cx="688.6" cy="843.6"/><circle cx="874.4" cy="271.6"/><circle cx="1132.0" cy="1100.5"/><circle cx="1566.4" cy="845.6"/><circle cx="915.0" cy="700.3"/><circle cx="1110.6" cy="1048.3"/><circle cx="1640.6" cy="801.4"/><circle cx="836.0" cy="562.6"/><circle cx="860.5" cy="372.9"/><circle cx="592.8" cy="889.4"/><circle cx="812.7" cy="1150.7"/><circle cx="452.7" cy="780.6"/><circle cx="590.7" cy="798.7"/><circle cx="655.1" cy="887.1"/><circle cx="939.1" cy="602.0"/><circle cx="1619.3" cy="356.7"/><circle cx="681.2" cy="819.4"/><circle cx="636.5" cy="983.0"/><circle cx="1133.0" cy="870.0"/><circle cx="1481.3" cy="795.8"/><circle cx="1604.9" cy="844.9"/><circle cx="802.0" cy="668.2"/><circle cx="1216.5" cy="779.0"/><circle cx="618.4" cy="829.7"/><circle cx="819.7" cy="720.0"/><circle cx="741.0" cy="596.5"/><circle cx="798.0" cy="1210.0"/><circle cx="673.0" cy="626.0"/><circle cx="871.0" cy="364.5"/><circle cx="1601.3" cy="812.1"/><circle cx="770.0" cy="594.5"/><circle cx="682.8" cy="891.2"/><circle cx="869.9" cy="350.1"/><circle cx="821.3" cy="1210.7"/><circle cx="872.4" cy="610.4"/><circle cx="1165.5" cy="801.0"/><circle cx="860.0" cy="634.8"/><circle cx="826.6" cy="753.8"/><circle cx="677.7" cy="874.2"/><circle cx="690.5" cy="549.0"/><circle cx="858.4" cy="539.2"/><circle cx="561.6" cy="926.1"/></g>
<g fill="#7A2382"><circle cx="725.1" cy="913.6"/><circle cx="663.7" cy="834.3"/><circle cx="723.2" cy="1021.5"/><circle cx="571.6" cy="842.0"/><circle cx="570.7" cy="835.2"/><circle cx="812.1" cy="687.9"/><circle cx="627.5" cy="860.6"/><circle cx="656.0" cy="878.7"/><circle cx="807.8" cy="669.9"/><circle cx="593.1" cy="887.8"/><circle cx="598.7" cy="873.8"/><circle cx="579.3" cy="898.8"/><circle cx="600.3" cy="953.9"/><circle cx="566.7" cy="827.8"/><circle cx="555.2" cy="858.3"/><circle cx="686.6" cy="922.3"/><circle cx="683.1" cy="792.7"/><circle cx="645.2" cy="893.0"/><circle cx="685.3" cy="830.5"/><circle cx="622.6" cy="842.7"/><circle cx="596.5" cy="804.2"/><circle cx="718.2" cy="902.1"/><circle cx="664.3" cy="814.9"/><circle cx="650.8" cy="829.1"/><circle cx="594.4" cy="854.8"/><circle cx="612.8" cy="825.5"/><circle cx="671.6" cy="975.6"/><circle cx="691.2" cy="934.1"/><circle cx="591.7" cy="962.5"/><circle cx="641.0" cy="888.0"/><circle cx="591.1" cy="813.2"/><circle cx="711.3" cy="897.7"/><circle cx="611.6" cy="950.3"/><circle cx="718.7" cy="983.7"/><circle cx="682.5" cy="954.5"/><circle cx="719.9" cy="859.0"/></g>
<g fill="#8C2981"><circle cx="623.3" cy="800.6"/><circle cx="616.4" cy="889.5"/><circle cx="504.8" cy="829.1"/><circle cx="971.0" cy="260.0"/><circle cx="1234.0" cy="974.6"/><circle cx="416.7" cy="736.1"/><circle cx="1397.7" cy="822.4"/><circle cx="1554.8" cy="855.6"/><circle cx="516.2" cy="811.4"/><circle cx="786.7" cy="1148.7"/><circle cx="1194.0" cy="795.0"/><circle cx="648.0" cy="671.0"/><circle cx="1435.3" cy="856.7"/><circle cx="1604.3" cy="360.0"/><circle cx="914.3" cy="703.7"/><circle cx="930.3" cy="576.9"/><circle cx="1640.7" cy="748.0"/><circle cx="684.0" cy="944.8"/><circle cx="1661.3" cy="389.3"/><circle cx="1562.5" cy="825.7"/><circle cx="837.6" cy="496.7"/><circle cx="706.7" cy="972.4"/><circle cx="841.3" cy="722.7"/><circle cx="689.3" cy="860.1"/><circle cx="1091.5" cy="766.5"/><circle cx="652.6" cy="1016.8"/><circle cx="816.7" cy="1210.3"/><circle cx="1111.3" cy="1042.4"/><circle cx="707.3" cy="725.9"/><circle cx="835.2" cy="521.9"/><circle cx="501.6" cy="806.1"/><circle cx="336.4" cy="624.1"/><circle cx="619.0" cy="730.0"/><circle cx="835.2" cy="505.1"/><circle cx="604.6" cy="855.7"/><circle cx="792.2" cy="787.0"/><circle cx="722.1" cy="893.5"/><circle cx="1241.4" cy="962.6"/><circle cx="974.6" cy="247.2"/><circle cx="824.7" cy="472.9"/><circle cx="648.7" cy="686.7"/><circle cx="576.9" cy="930.3"/><circle cx="634.7" cy="717.0"/><circle cx="1638.7" cy="384.0"/><circle cx="573.2" cy="858.7"/><circle cx="524.9" cy="860.5"/><circle cx="632.9" cy="901.4"/><circle cx="639.0" cy="883.1"/><circle cx="1712.0" cy="300.7"/><circle cx="1260.0" cy="800.7"/><circle cx="794.3" cy="1176.0"/><circle cx="704.7" cy="811.7"/><circle cx="871.8" cy="287.6"/><circle cx="614.8" cy="938.3"/><circle cx="959.0" cy="264.4"/><circle cx="678.1" cy="1035.0"/><circle cx="731.2" cy="800.0"/><circle cx="695.6" cy="779.3"/><circle cx="1607.1" cy="838.5"/><circle cx="1121.0" cy="891.0"/><circle cx="759.6" cy="754.8"/><circle cx="347.6" cy="700.7"/><circle cx="630.0" cy="713.0"/><circle cx="1526.3" cy="835.6"/><circle cx="1594.9" cy="868.1"/><circle cx="586.6" cy="951.9"/><circle cx="547.8" cy="860.2"/><circle cx="679.5" cy="643.0"/><circle cx="522.9" cy="830.9"/><circle cx="1645.3" cy="385.3"/><circle cx="436.6" cy="717.5"/><circle cx="674.8" cy="1009.3"/><circle cx="685.0" cy="1003.3"/><circle cx="976.6" cy="261.6"/><circle cx="824.8" cy="451.2"/><circle cx="672.2" cy="728.3"/><circle cx="589.5" cy="879.0"/><circle cx="1193.0" cy="799.0"/><circle cx="664.1" cy="871.6"/><circle cx="832.3" cy="666.7"/><circle cx="740.0" cy="587.0"/><circle cx="377.5" cy="597.1"/><circle cx="1141.1" cy="1088.6"/><circle cx="647.6" cy="996.9"/><circle cx="733.3" cy="1080.4"/><circle cx="718.7" cy="872.7"/><circle cx="407.3" cy="738.9"/><circle cx="847.3" cy="664.3"/><circle cx="1664.0" cy="386.7"/><circle cx="350.4" cy="666.5"/><circle cx="699.3" cy="861.7"/><circle cx="1609.2" cy="842.1"/><circle cx="704.0" cy="950.8"/><circle cx="822.0" cy="706.3"/><circle cx="1611.0" cy="858.8"/><circle cx="629.9" cy="863.9"/><circle cx="550.8" cy="859.9"/><circle cx="760.3" cy="849.8"/><circle cx="1509.2" cy="807.5"/><circle cx="587.2" cy="939.4"/><circle cx="749.3" cy="1115.3"/><circle cx="738.3" cy="1084.0"/><circle cx="764.9" cy="819.9"/><circle cx="1559.6" cy="869.5"/><circle cx="884.3" cy="701.3"/><circle cx="1000.3" cy="675.7"/><circle cx="1613.5" cy="826.0"/><circle cx="743.0" cy="583.5"/><circle cx="1306.9" cy="803.3"/><circle cx="348.2" cy="685.7"/><circle cx="853.0" cy="689.7"/><circle cx="1283.4" cy="821.9"/><circle cx="1328.6" cy="818.2"/><circle cx="957.3" cy="650.7"/><circle cx="815.3" cy="1198.3"/><circle cx="1291.4" cy="826.4"/><circle cx="622.0" cy="716.0"/><circle cx="774.7" cy="1118.7"/><circle cx="973.4" cy="1094.6"/><circle cx="855.3" cy="742.8"/><circle cx="1132.0" cy="893.0"/><circle cx="823.3" cy="520.5"/><circle cx="1223.2" cy="970.3"/><circle cx="625.8" cy="903.0"/><circle cx="705.2" cy="784.3"/><circle cx="822.2" cy="497.4"/><circle cx="969.4" cy="256.8"/><circle cx="751.7" cy="1059.6"/><circle cx="678.9" cy="957.6"/><circle cx="1616.0" cy="809.6"/><circle cx="833.3" cy="1075.3"/><circle cx="1284.8" cy="796.7"/><circle cx="839.7" cy="692.7"/><circle cx="1432.0" cy="837.5"/><circle cx="851.3" cy="668.3"/><circle cx="547.2" cy="815.9"/><circle cx="671.8" cy="933.6"/><circle cx="955.0" cy="266.8"/><circle cx="671.8" cy="952.9"/><circle cx="877.8" cy="632.2"/><circle cx="1562.8" cy="820.0"/><circle cx="1622.0" cy="777.0"/><circle cx="978.0" cy="678.3"/><circle cx="925.4" cy="969.2"/><circle cx="651.0" cy="525.0"/><circle cx="1360.0" cy="825.3"/><circle cx="716.9" cy="994.8"/><circle cx="754.0" cy="1099.3"/><circle cx="534.3" cy="872.5"/><circle cx="338.6" cy="646.2"/><circle cx="795.3" cy="1128.0"/><circle cx="889.3" cy="679.3"/><circle cx="1125.0" cy="1099.1"/><circle cx="1420.0" cy="817.9"/><circle cx="965.7" cy="672.3"/><circle cx="728.4" cy="928.8"/><circle cx="624.1" cy="787.9"/><circle cx="1141.8" cy="1102.6"/><circle cx="963.3" cy="587.9"/><circle cx="821.3" cy="1172.4"/><circle cx="1648.7" cy="379.3"/><circle cx="699.2" cy="726.0"/><circle cx="863.4" cy="595.8"/><circle cx="603.6" cy="918.5"/><circle cx="1552.3" cy="812.1"/><circle cx="1173.2" cy="793.8"/><circle cx="751.3" cy="1094.0"/><circle cx="789.2" cy="750.2"/><circle cx="1452.1" cy="828.7"/><circle cx="653.9" cy="803.6"/><circle cx="861.0" cy="591.4"/><circle cx="931.3" cy="654.3"/><circle cx="660.7" cy="658.7"/><circle cx="1085.0" cy="776.0"/><circle cx="666.3" cy="994.5"/><circle cx="687.2" cy="898.3"/><circle cx="772.7" cy="1118.0"/><circle cx="940.9" cy="562.0"/><circle cx="942.2" cy="271.2"/><circle cx="725.7" cy="921.4"/><circle cx="607.1" cy="921.1"/><circle cx="807.9" cy="458.5"/><circle cx="806.7" cy="1200.7"/><circle cx="443.2" cy="771.2"/><circle cx="618.1" cy="935.1"/><circle cx="600.8" cy="905.3"/><circle cx="593.4" cy="779.1"/><circle cx="649.0" cy="917.9"/><circle cx="680.4" cy="769.4"/><circle cx="876.6" cy="323.2"/><circle cx="913.7" cy="573.5"/><circle cx="1347.4" cy="837.9"/><circle cx="1407.1" cy="843.6"/><circle cx="1605.6" cy="833.5"/><circle cx="648.6" cy="867.6"/><circle cx="1457.1" cy="854.9"/><circle cx="807.9" cy="497.0"/><circle cx="618.3" cy="772.5"/><circle cx="1053.0" cy="749.5"/><circle cx="1326.6" cy="833.6"/><circle cx="682.7" cy="985.9"/><circle cx="722.8" cy="929.0"/><circle cx="728.0" cy="739.8"/><circle cx="590.9" cy="837.7"/><circle cx="333.2" cy="688.0"/><circle cx="1457.1" cy="851.3"/><circle cx="746.9" cy="1085.3"/><circle cx="543.4" cy="797.3"/><circle cx="716.7" cy="785.9"/><circle cx="703.2" cy="620.2"/><circle cx="1253.7" cy="806.4"/><circle cx="684.0" cy="628.5"/><circle cx="1304.9" cy="828.7"/><circle cx="870.2" cy="582.2"/><circle cx="1609.6" cy="819.6"/><circle cx="808.6" cy="551.4"/><circle cx="659.0" cy="532.5"/><circle cx="577.0" cy="885.5"/><circle cx="1668.0" cy="383.3"/><circle cx="688.2" cy="1025.8"/><circle cx="1651.3" cy="353.3"/><circle cx="1669.3" cy="407.3"/><circle cx="602.6" cy="850.0"/><circle cx="854.2" cy="553.0"/><circle cx="1336.6" cy="817.9"/><circle cx="973.8" cy="252.4"/><circle cx="773.0" cy="982.5"/><circle cx="733.3" cy="988.5"/><circle cx="706.3" cy="779.3"/><circle cx="1546.3" cy="820.0"/><circle cx="970.3" cy="547.6"/><circle cx="1039.0" cy="749.5"/><circle cx="614.0" cy="821.3"/><circle cx="929.9" cy="530.5"/><circle cx="1518.6" cy="875.7"/><circle cx="1564.8" cy="877.4"/><circle cx="735.0" cy="882.1"/><circle cx="869.3" cy="701.7"/><circle cx="399.9" cy="740.2"/><circle cx="934.0" cy="606.8"/><circle cx="1584.2" cy="855.3"/><circle cx="713.3" cy="981.5"/><circle cx="861.3" cy="696.7"/><circle cx="822.6" cy="512.8"/><circle cx="865.2" cy="643.4"/><circle cx="1207.0" cy="951.4"/><circle cx="822.3" cy="440.1"/><circle cx="824.8" cy="547.6"/><circle cx="1649.1" cy="825.7"/><circle cx="585.1" cy="944.4"/><circle cx="814.0" cy="1204.0"/><circle cx="617.8" cy="769.6"/><circle cx="862.7" cy="709.7"/><circle cx="730.0" cy="1070.0"/><circle cx="776.1" cy="973.6"/><circle cx="546.6" cy="880.2"/><circle cx="1194.0" cy="803.0"/><circle cx="730.3" cy="998.1"/><circle cx="861.3" cy="726.3"/><circle cx="595.6" cy="939.7"/><circle cx="1143.9" cy="1114.8"/><circle cx="699.8" cy="991.0"/><circle cx="702.3" cy="913.7"/><circle cx="478.3" cy="792.1"/><circle cx="915.7" cy="695.0"/><circle cx="1677.3" cy="405.3"/><circle cx="703.7" cy="801.6"/><circle cx="831.0" cy="510.7"/><circle cx="666.4" cy="1022.0"/><circle cx="778.7" cy="1148.0"/><circle cx="826.8" cy="531.7"/><circle cx="762.7" cy="731.8"/><circle cx="860.5" cy="416.6"/><circle cx="1351.4" cy="836.1"/><circle cx="591.8" cy="804.8"/><circle cx="752.7" cy="780.9"/><circle cx="801.7" cy="736.7"/><circle cx="324.3" cy="688.0"/><circle cx="1674.7" cy="355.1"/><circle cx="633.2" cy="944.7"/><circle cx="1503.8" cy="821.4"/><circle cx="887.4" cy="337.2"/><circle cx="700.5" cy="560.0"/><circle cx="858.3" cy="711.3"/><circle cx="1565.3" cy="330.0"/><circle cx="878.6" cy="311.6"/><circle cx="626.6" cy="917.1"/><circle cx="398.9" cy="732.4"/><circle cx="1636.7" cy="399.3"/><circle cx="881.7" cy="696.0"/><circle cx="1469.2" cy="850.6"/><circle cx="586.6" cy="861.7"/><circle cx="850.8" cy="627.0"/><circle cx="374.7" cy="696.4"/><circle cx="1026.5" cy="744.0"/><circle cx="967.5" cy="642.5"/><circle cx="1629.0" cy="766.0"/><circle cx="763.4" cy="977.9"/><circle cx="1156.5" cy="790.5"/><circle cx="953.7" cy="538.5"/><circle cx="618.4" cy="863.1"/><circle cx="1380.6" cy="831.0"/><circle cx="532.5" cy="836.1"/><circle cx="1185.5" cy="793.5"/><circle cx="560.3" cy="823.5"/><circle cx="846.1" cy="390.0"/><circle cx="1611.3" cy="359.3"/><circle cx="808.5" cy="551.5"/><circle cx="728.5" cy="811.2"/><circle cx="671.1" cy="857.8"/><circle cx="970.3" cy="570.5"/><circle cx="972.4" cy="576.9"/><circle cx="329.5" cy="697.3"/><circle cx="1377.7" cy="832.1"/><circle cx="678.4" cy="982.4"/><circle cx="586.4" cy="812.0"/><circle cx="830.3" cy="699.3"/><circle cx="343.9" cy="614.4"/><circle cx="1497.4" cy="830.6"/><circle cx="375.6" cy="598.9"/><circle cx="965.0" cy="949.7"/><circle cx="522.1" cy="791.8"/><circle cx="543.9" cy="810.6"/><circle cx="888.7" cy="715.3"/><circle cx="730.5" cy="887.1"/><circle cx="806.0" cy="1176.7"/><circle cx="1416.6" cy="827.0"/><circle cx="907.6" cy="966.9"/><circle cx="334.9" cy="706.3"/><circle cx="705.8" cy="835.8"/><circle cx="1366.3" cy="834.4"/><circle cx="696.8" cy="603.2"/><circle cx="545.8" cy="846.3"/><circle cx="1701.3" cy="307.6"/><circle cx="625.2" cy="878.4"/><circle cx="1127.1" cy="1065.5"/><circle cx="845.0" cy="306.4"/><circle cx="882.5" cy="991.5"/><circle cx="982.9" cy="584.2"/><circle cx="735.0" cy="844.5"/><circle cx="1097.5" cy="787.2"/><circle cx="612.3" cy="884.1"/><circle cx="1648.7" cy="352.4"/><circle cx="978.8" cy="568.4"/><circle cx="1208.5" cy="802.0"/><circle cx="1673.3" cy="380.7"/><circle cx="644.1" cy="804.6"/><circle cx="1119.7" cy="1055.7"/><circle cx="1481.2" cy="826.7"/><circle cx="833.3" cy="683.0"/><circle cx="639.5" cy="908.7"/><circle cx="645.6" cy="982.1"/><circle cx="1615.7" cy="336.0"/><circle cx="1264.6" cy="828.1"/><circle cx="796.7" cy="1130.7"/><circle cx="891.6" cy="402.1"/><circle cx="534.3" cy="830.7"/><circle cx="865.8" cy="550.0"/><circle cx="634.0" cy="691.0"/><circle cx="801.3" cy="1216.7"/><circle cx="718.1" cy="1011.3"/><circle cx="412.6" cy="756.7"/><circle cx="675.3" cy="973.4"/><circle cx="1663.7" cy="398.7"/><circle cx="664.2" cy="959.0"/><circle cx="1269.7" cy="801.9"/><circle cx="973.7" cy="627.7"/><circle cx="1129.2" cy="1094.5"/><circle cx="741.1" cy="878.2"/><circle cx="713.3" cy="1018.8"/><circle cx="1345.7" cy="819.2"/><circle cx="1419.4" cy="823.6"/><circle cx="702.0" cy="852.2"/><circle cx="1314.1" cy="833.1"/><circle cx="671.7" cy="901.5"/><circle cx="748.7" cy="1067.3"/><circle cx="942.0" cy="664.7"/><circle cx="1643.4" cy="821.4"/><circle cx="1582.4" cy="332.9"/><circle cx="672.4" cy="1032.4"/><circle cx="829.0" cy="693.3"/><circle cx="1146.7" cy="1114.8"/><circle cx="1125.7" cy="1094.9"/><circle cx="845.3" cy="502.3"/><circle cx="800.0" cy="1154.7"/><circle cx="650.6" cy="999.9"/><circle cx="1518.4" cy="838.1"/><circle cx="1455.7" cy="869.9"/><circle cx="594.7" cy="943.2"/><circle cx="1570.7" cy="333.7"/><circle cx="951.3" cy="664.7"/><circle cx="792.7" cy="1154.7"/><circle cx="554.1" cy="826.6"/><circle cx="1316.9" cy="785.9"/><circle cx="663.0" cy="573.0"/><circle cx="955.9" cy="467.6"/><circle cx="775.7" cy="759.4"/><circle cx="1604.6" cy="864.2"/><circle cx="944.0" cy="277.2"/><circle cx="1293.7" cy="810.7"/><circle cx="795.3" cy="1170.0"/><circle cx="1145.0" cy="926.8"/><circle cx="776.0" cy="1114.0"/><circle cx="938.2" cy="259.4"/><circle cx="759.5" cy="864.7"/><circle cx="709.4" cy="744.4"/><circle cx="731.3" cy="955.5"/><circle cx="333.6" cy="621.3"/><circle cx="947.9" cy="555.1"/><circle cx="790.0" cy="1161.3"/><circle cx="768.7" cy="1097.3"/><circle cx="955.8" cy="268.8"/><circle cx="790.0" cy="653.0"/><circle cx="1670.0" cy="416.7"/><circle cx="806.6" cy="759.7"/><circle cx="1549.5" cy="820.7"/><circle cx="714.5" cy="606.8"/><circle cx="833.1" cy="506.5"/><circle cx="1137.8" cy="778.8"/><circle cx="951.0" cy="264.4"/><circle cx="372.8" cy="689.1"/><circle cx="608.1" cy="963.4"/><circle cx="855.3" cy="683.3"/><circle cx="1525.9" cy="830.3"/><circle cx="1235.0" cy="966.0"/><circle cx="764.9" cy="838.0"/><circle cx="804.9" cy="1184.7"/><circle cx="969.2" cy="536.9"/><circle cx="566.8" cy="816.8"/><circle cx="850.3" cy="1054.4"/><circle cx="854.4" cy="620.2"/><circle cx="1179.5" cy="784.2"/><circle cx="526.4" cy="871.1"/><circle cx="1643.1" cy="831.4"/><circle cx="974.5" cy="596.1"/><circle cx="1501.7" cy="838.5"/><circle cx="1493.8" cy="864.5"/><circle cx="724.4" cy="927.1"/><circle cx="815.2" cy="676.8"/><circle cx="755.4" cy="714.5"/><circle cx="798.7" cy="713.3"/><circle cx="790.5" cy="653.5"/><circle cx="660.5" cy="885.2"/><circle cx="1588.5" cy="870.2"/><circle cx="619.3" cy="960.6"/><circle cx="873.0" cy="320.0"/><circle cx="682.9" cy="834.3"/><circle cx="1557.1" cy="855.3"/><circle cx="1381.9" cy="839.6"/><circle cx="978.3" cy="664.3"/><circle cx="1000.0" cy="673.0"/><circle cx="855.7" cy="709.0"/><circle cx="871.6" cy="582.3"/><circle cx="1540.0" cy="861.0"/><circle cx="705.3" cy="757.5"/><circle cx="857.3" cy="744.6"/><circle cx="560.4" cy="920.1"/><circle cx="646.6" cy="804.0"/><circle cx="1184.5" cy="801.0"/><circle cx="727.4" cy="755.6"/><circle cx="969.7" cy="560.9"/><circle cx="1584.6" cy="847.8"/><circle cx="1348.0" cy="828.7"/><circle cx="995.0" cy="653.7"/><circle cx="597.8" cy="985.4"/><circle cx="1241.4" cy="778.7"/><circle cx="999.7" cy="662.3"/><circle cx="343.9" cy="713.4"/><circle cx="840.4" cy="491.4"/><circle cx="955.0" cy="667.7"/><circle cx="706.7" cy="1063.3"/><circle cx="1598.5" cy="852.8"/><circle cx="776.5" cy="718.4"/><circle cx="895.0" cy="277.0"/><circle cx="1611.3" cy="343.3"/><circle cx="1596.0" cy="367.3"/><circle cx="596.9" cy="939.6"/><circle cx="384.0" cy="709.6"/><circle cx="638.5" cy="529.5"/><circle cx="754.7" cy="1106.7"/><circle cx="790.7" cy="653.7"/><circle cx="1388.0" cy="845.3"/><circle cx="641.8" cy="809.2"/><circle cx="1480.6" cy="844.6"/><circle cx="587.2" cy="830.7"/><circle cx="1631.3" cy="815.0"/><circle cx="562.0" cy="855.8"/><circle cx="958.3" cy="655.0"/><circle cx="813.4" cy="748.9"/><circle cx="1579.0" cy="733.7"/><circle cx="1582.5" cy="740.0"/><circle cx="1569.0" cy="804.8"/><circle cx="697.2" cy="921.3"/><circle cx="610.9" cy="839.3"/><circle cx="1494.2" cy="836.4"/><circle cx="855.9" cy="417.3"/><circle cx="775.6" cy="844.8"/><circle cx="668.0" cy="610.5"/><circle cx="858.6" cy="284.4"/><circle cx="709.3" cy="797.9"/><circle cx="1472.4" cy="842.4"/><circle cx="611.5" cy="999.4"/><circle cx="638.4" cy="946.7"/><circle cx="720.2" cy="955.0"/><circle cx="716.4" cy="956.4"/><circle cx="1425.1" cy="838.1"/><circle cx="1432.5" cy="837.8"/><circle cx="1123.2" cy="1072.5"/><circle cx="1599.6" cy="796.8"/><circle cx="766.7" cy="1111.3"/><circle cx="1137.6" cy="1083.7"/><circle cx="740.8" cy="856.4"/><circle cx="906.0" cy="274.2"/><circle cx="1647.7" cy="818.5"/><circle cx="999.0" cy="665.7"/><circle cx="673.5" cy="586.5"/><circle cx="816.3" cy="490.4"/><circle cx="722.8" cy="933.1"/><circle cx="893.4" cy="392.8"/><circle cx="552.8" cy="865.8"/><circle cx="742.4" cy="785.9"/><circle cx="1557.6" cy="328.7"/><circle cx="1088.5" cy="774.0"/><circle cx="752.2" cy="818.1"/><circle cx="1644.1" cy="840.3"/><circle cx="708.1" cy="866.3"/><circle cx="562.9" cy="892.9"/><circle cx="851.7" cy="382.3"/><circle cx="409.2" cy="749.2"/><circle cx="1638.7" cy="396.7"/><circle cx="747.4" cy="743.7"/><circle cx="841.0" cy="736.3"/><circle cx="1614.7" cy="351.3"/><circle cx="657.5" cy="569.0"/><circle cx="1610.6" cy="870.2"/><circle cx="1574.0" cy="776.8"/><circle cx="809.7" cy="733.0"/><circle cx="653.7" cy="1010.3"/><circle cx="1464.9" cy="843.8"/><circle cx="805.0" cy="733.3"/><circle cx="815.0" cy="443.6"/><circle cx="790.7" cy="710.0"/><circle cx="935.0" cy="652.3"/><circle cx="1634.7" cy="360.4"/><circle cx="864.6" cy="607.0"/><circle cx="584.5" cy="898.1"/><circle cx="1571.4" cy="854.5"/><circle cx="1610.6" cy="847.1"/><circle cx="1538.4" cy="844.6"/><circle cx="552.2" cy="877.2"/><circle cx="345.7" cy="604.5"/><circle cx="717.5" cy="750.6"/><circle cx="886.7" cy="686.7"/><circle cx="977.7" cy="646.7"/><circle cx="874.0" cy="274.2"/><circle cx="798.4" cy="743.8"/><circle cx="578.4" cy="963.8"/><circle cx="641.5" cy="857.7"/><circle cx="1566.4" cy="863.5"/><circle cx="1627.7" cy="770.5"/><circle cx="1642.0" cy="358.7"/><circle cx="631.6" cy="868.0"/><circle cx="726.4" cy="1030.7"/><circle cx="728.5" cy="608.5"/><circle cx="1639.2" cy="835.6"/><circle cx="1599.9" cy="859.9"/><circle cx="606.9" cy="956.1"/><circle cx="1254.3" cy="821.1"/><circle cx="902.2" cy="503.1"/><circle cx="1434.3" cy="822.1"/><circle cx="812.1" cy="499.5"/><circle cx="928.1" cy="487.5"/><circle cx="748.5" cy="826.8"/><circle cx="1640.7" cy="394.0"/><circle cx="669.3" cy="913.5"/><circle cx="811.5" cy="741.6"/><circle cx="653.0" cy="531.0"/><circle cx="1402.9" cy="820.7"/><circle cx="643.7" cy="904.5"/><circle cx="1269.9" cy="808.7"/><circle cx="676.4" cy="996.9"/><circle cx="902.0" cy="672.0"/><circle cx="738.4" cy="808.9"/><circle cx="622.0" cy="849.7"/><circle cx="1666.7" cy="404.7"/><circle cx="1141.8" cy="795.3"/><circle cx="723.0" cy="864.6"/><circle cx="1293.1" cy="818.4"/><circle cx="1654.4" cy="360.7"/><circle cx="426.6" cy="753.5"/><circle cx="1622.7" cy="827.8"/><circle cx="960.5" cy="524.1"/><circle cx="1622.4" cy="785.7"/><circle cx="821.3" cy="1180.4"/><circle cx="653.9" cy="969.1"/><circle cx="775.3" cy="1131.6"/><circle cx="832.8" cy="423.3"/><circle cx="847.4" cy="526.8"/><circle cx="873.0" cy="659.7"/><circle cx="613.6" cy="860.8"/><circle cx="1477.8" cy="871.3"/><circle cx="895.8" cy="298.4"/><circle cx="829.6" cy="504.4"/><circle cx="1542.1" cy="801.8"/><circle cx="411.1" cy="740.8"/><circle cx="690.5" cy="878.8"/><circle cx="1637.3" cy="352.7"/><circle cx="828.7" cy="1072.0"/><circle cx="703.2" cy="963.8"/><circle cx="868.0" cy="378.6"/><circle cx="338.3" cy="634.4"/><circle cx="931.9" cy="584.2"/><circle cx="774.2" cy="745.2"/><circle cx="1416.6" cy="844.1"/><circle cx="671.0" cy="543.5"/><circle cx="1435.6" cy="846.0"/><circle cx="622.7" cy="871.0"/><circle cx="850.0" cy="646.7"/><circle cx="576.3" cy="873.8"/><circle cx="1642.0" cy="779.0"/><circle cx="1528.1" cy="851.0"/><circle cx="975.0" cy="679.3"/><circle cx="1125.3" cy="1046.6"/><circle cx="656.5" cy="648.0"/><circle cx="676.2" cy="804.8"/><circle cx="896.0" cy="701.7"/><circle cx="1292.8" cy="801.3"/><circle cx="717.5" cy="743.7"/><circle cx="584.6" cy="941.3"/><circle cx="711.3" cy="750.6"/><circle cx="658.2" cy="780.1"/><circle cx="654.0" cy="527.0"/><circle cx="1111.2" cy="780.5"/><circle cx="644.9" cy="858.0"/><circle cx="873.0" cy="720.0"/><circle cx="1172.0" cy="807.0"/><circle cx="637.1" cy="1012.3"/><circle cx="697.2" cy="981.5"/><circle cx="647.8" cy="908.3"/><circle cx="780.7" cy="840.6"/><circle cx="986.0" cy="668.3"/><circle cx="812.4" cy="664.5"/><circle cx="647.1" cy="894.5"/><circle cx="552.9" cy="848.5"/><circle cx="725.1" cy="874.5"/><circle cx="1643.8" cy="745.0"/><circle cx="334.2" cy="630.7"/><circle cx="978.3" cy="661.0"/><circle cx="964.0" cy="659.7"/><circle cx="792.0" cy="1196.7"/><circle cx="522.0" cy="837.8"/><circle cx="853.8" cy="295.6"/><circle cx="973.4" cy="259.2"/><circle cx="693.3" cy="791.6"/><circle cx="864.2" cy="468.0"/><circle cx="722.7" cy="731.8"/><circle cx="412.0" cy="750.1"/><circle cx="1659.3" cy="392.0"/><circle cx="839.7" cy="656.3"/><circle cx="1113.8" cy="1036.8"/><circle cx="398.0" cy="714.7"/><circle cx="395.2" cy="721.6"/><circle cx="861.5" cy="442.9"/><circle cx="778.4" cy="959.2"/><circle cx="1199.0" cy="791.5"/><circle cx="738.4" cy="831.4"/><circle cx="719.0" cy="585.0"/><circle cx="645.0" cy="676.7"/><circle cx="1535.9" cy="825.5"/><circle cx="866.7" cy="691.3"/><circle cx="833.0" cy="657.0"/><circle cx="780.3" cy="737.5"/><circle cx="788.4" cy="830.4"/><circle cx="706.1" cy="864.4"/><circle cx="1491.7" cy="842.8"/><circle cx="991.7" cy="650.7"/><circle cx="475.1" cy="800.5"/><circle cx="876.6" cy="563.3"/><circle cx="1630.6" cy="809.3"/><circle cx="1643.3" cy="352.7"/><circle cx="1093.0" cy="758.0"/><circle cx="543.3" cy="899.7"/><circle cx="1652.0" cy="379.1"/><circle cx="1199.0" cy="801.5"/><circle cx="932.1" cy="542.3"/><circle cx="1456.4" cy="864.9"/><circle cx="1478.5" cy="857.0"/><circle cx="988.7" cy="648.0"/><circle cx="659.5" cy="573.0"/><circle cx="1139.2" cy="915.0"/><circle cx="804.9" cy="756.3"/><circle cx="875.0" cy="696.7"/><circle cx="1635.6" cy="816.4"/><circle cx="360.7" cy="704.4"/><circle cx="888.5" cy="384.8"/><circle cx="582.7" cy="852.6"/><circle cx="637.7" cy="988.4"/><circle cx="890.6" cy="377.1"/></g>
<g fill="#E04C67"><circle cx="723.8" cy="826.2"/><circle cx="635.9" cy="917.9"/><circle cx="665.0" cy="945.8"/><circle cx="1109.2" cy="1038.5"/><circle cx="534.8" cy="819.2"/><circle cx="672.7" cy="862.2"/><circle cx="719.3" cy="802.4"/><circle cx="712.8" cy="950.8"/><circle cx="714.2" cy="1030.7"/><circle cx="713.6" cy="787.0"/><circle cx="715.1" cy="942.6"/><circle cx="591.0" cy="895.3"/><circle cx="566.8" cy="861.7"/><circle cx="642.4" cy="1015.1"/><circle cx="1461.2" cy="817.7"/><circle cx="603.6" cy="846.6"/><circle cx="1370.5" cy="828.1"/><circle cx="733.3" cy="985.1"/><circle cx="644.0" cy="524.5"/><circle cx="1592.6" cy="842.4"/><circle cx="696.6" cy="1007.1"/><circle cx="1140.0" cy="1110.6"/><circle cx="696.3" cy="865.7"/><circle cx="685.7" cy="1001.1"/><circle cx="686.0" cy="584.5"/><circle cx="798.5" cy="679.9"/><circle cx="938.7" cy="681.0"/><circle cx="584.8" cy="871.0"/><circle cx="651.4" cy="919.4"/><circle cx="957.3" cy="463.9"/><circle cx="1670.4" cy="353.1"/><circle cx="528.2" cy="818.3"/><circle cx="672.0" cy="615.5"/><circle cx="679.5" cy="895.9"/><circle cx="334.0" cy="680.5"/><circle cx="822.6" cy="501.6"/><circle cx="587.4" cy="845.6"/><circle cx="644.7" cy="687.0"/><circle cx="644.6" cy="690.0"/><circle cx="1530.9" cy="842.4"/><circle cx="978.3" cy="564.7"/><circle cx="747.0" cy="976.7"/><circle cx="894.2" cy="387.6"/><circle cx="1425.7" cy="820.7"/><circle cx="634.0" cy="823.5"/><circle cx="530.1" cy="859.1"/><circle cx="340.1" cy="697.9"/><circle cx="637.7" cy="890.1"/><circle cx="692.2" cy="863.3"/><circle cx="585.8" cy="855.2"/><circle cx="675.8" cy="833.4"/><circle cx="606.4" cy="810.2"/><circle cx="666.9" cy="837.9"/><circle cx="424.7" cy="749.6"/><circle cx="1586.6" cy="852.4"/><circle cx="766.0" cy="897.4"/><circle cx="655.0" cy="654.0"/><circle cx="1257.7" cy="801.9"/><circle cx="667.4" cy="1019.3"/><circle cx="638.7" cy="807.5"/><circle cx="940.4" cy="557.2"/><circle cx="1591.0" cy="755.5"/><circle cx="637.0" cy="698.7"/><circle cx="627.1" cy="967.7"/><circle cx="1461.2" cy="876.7"/><circle cx="826.4" cy="510.7"/><circle cx="1609.2" cy="828.9"/><circle cx="920.0" cy="686.7"/><circle cx="688.1" cy="852.8"/><circle cx="667.9" cy="958.9"/><circle cx="635.0" cy="702.0"/><circle cx="711.9" cy="909.8"/><circle cx="741.4" cy="1023.2"/><circle cx="730.7" cy="989.0"/><circle cx="741.6" cy="770.9"/><circle cx="658.9" cy="1012.6"/><circle cx="367.6" cy="604.2"/><circle cx="973.5" cy="557.2"/><circle cx="761.1" cy="933.1"/><circle cx="705.7" cy="990.2"/><circle cx="927.7" cy="690.7"/><circle cx="658.3" cy="868.1"/><circle cx="811.6" cy="1118.9"/><circle cx="586.7" cy="839.1"/><circle cx="1642.4" cy="366.3"/><circle cx="748.8" cy="965.6"/><circle cx="721.6" cy="792.9"/><circle cx="698.0" cy="850.8"/><circle cx="812.9" cy="741.8"/><circle cx="731.4" cy="809.3"/><circle cx="726.5" cy="578.0"/><circle cx="940.0" cy="695.8"/><circle cx="691.7" cy="973.9"/><circle cx="783.3" cy="1128.3"/><circle cx="603.9" cy="872.5"/><circle cx="567.8" cy="866.5"/><circle cx="1596.7" cy="863.5"/><circle cx="798.0" cy="759.4"/><circle cx="731.0" cy="858.8"/><circle cx="1179.3" cy="940.0"/><circle cx="666.0" cy="1003.8"/><circle cx="705.9" cy="1008.8"/><circle cx="662.0" cy="867.3"/><circle cx="619.9" cy="818.7"/><circle cx="755.4" cy="729.9"/><circle cx="684.1" cy="1016.9"/><circle cx="350.4" cy="649.0"/><circle cx="452.1" cy="764.1"/><circle cx="759.8" cy="713.0"/><circle cx="696.9" cy="1016.8"/><circle cx="665.6" cy="840.8"/><circle cx="863.4" cy="294.0"/><circle cx="560.7" cy="934.8"/><circle cx="827.0" cy="719.0"/><circle cx="611.7" cy="764.3"/><circle cx="1550.3" cy="797.3"/><circle cx="683.7" cy="1040.9"/><circle cx="814.7" cy="720.3"/><circle cx="1467.2" cy="831.5"/><circle cx="647.5" cy="529.5"/><circle cx="589.8" cy="902.5"/><circle cx="594.0" cy="872.5"/><circle cx="636.4" cy="993.7"/><circle cx="670.7" cy="857.4"/><circle cx="801.0" cy="608.0"/><circle cx="1581.5" cy="841.0"/><circle cx="1598.5" cy="846.3"/><circle cx="1600.0" cy="340.9"/><circle cx="565.4" cy="911.1"/><circle cx="717.6" cy="843.9"/><circle cx="641.1" cy="880.4"/><circle cx="1126.7" cy="1103.3"/><circle cx="610.9" cy="984.2"/><circle cx="640.7" cy="1001.2"/><circle cx="951.6" cy="471.1"/><circle cx="670.8" cy="855.0"/><circle cx="1403.2" cy="829.3"/><circle cx="812.4" cy="493.0"/><circle cx="1146.7" cy="1097.3"/><circle cx="1159.5" cy="781.5"/><circle cx="962.6" cy="531.3"/><circle cx="666.0" cy="871.8"/><circle cx="676.4" cy="903.1"/><circle cx="743.0" cy="840.6"/><circle cx="1108.8" cy="774.5"/><circle cx="762.6" cy="918.1"/><circle cx="1541.3" cy="837.8"/><circle cx="890.8" cy="327.6"/><circle cx="917.2" cy="645.0"/><circle cx="1643.8" cy="812.5"/><circle cx="858.2" cy="299.6"/><circle cx="421.7" cy="737.1"/><circle cx="616.5" cy="912.8"/><circle cx="964.4" cy="543.3"/><circle cx="1623.5" cy="813.2"/><circle cx="1578.3" cy="824.4"/><circle cx="882.0" cy="728.7"/><circle cx="948.1" cy="539.8"/><circle cx="855.3" cy="745.2"/><circle cx="570.9" cy="886.7"/><circle cx="602.4" cy="958.0"/><circle cx="657.5" cy="832.3"/><circle cx="1536.6" cy="788.6"/><circle cx="698.5" cy="939.5"/><circle cx="790.3" cy="697.7"/><circle cx="694.1" cy="978.4"/><circle cx="417.2" cy="744.9"/><circle cx="1101.0" cy="763.2"/><circle cx="1566.7" cy="332.7"/><circle cx="490.4" cy="812.7"/><circle cx="645.9" cy="842.8"/><circle cx="559.2" cy="936.7"/><circle cx="575.1" cy="836.7"/><circle cx="709.0" cy="796.0"/><circle cx="694.5" cy="567.0"/><circle cx="732.4" cy="1076.7"/><circle cx="721.3" cy="1000.6"/><circle cx="596.3" cy="967.1"/><circle cx="857.8" cy="331.2"/><circle cx="485.7" cy="808.9"/><circle cx="617.0" cy="852.6"/><circle cx="1664.7" cy="376.0"/><circle cx="788.4" cy="1155.3"/><circle cx="754.9" cy="932.7"/><circle cx="1611.3" cy="813.2"/><circle cx="658.0" cy="840.0"/><circle cx="748.0" cy="872.1"/><circle cx="658.4" cy="1003.8"/><circle cx="734.1" cy="878.9"/><circle cx="802.9" cy="481.8"/><circle cx="367.2" cy="688.0"/><circle cx="780.3" cy="713.4"/><circle cx="684.8" cy="940.6"/><circle cx="501.6" cy="838.4"/><circle cx="601.2" cy="842.5"/><circle cx="541.2" cy="884.4"/><circle cx="1603.3" cy="331.3"/><circle cx="774.1" cy="833.7"/><circle cx="1429.1" cy="817.9"/><circle cx="656.7" cy="869.8"/><circle cx="566.4" cy="923.8"/><circle cx="643.6" cy="957.9"/><circle cx="529.9" cy="864.3"/><circle cx="712.0" cy="1050.7"/><circle cx="709.3" cy="925.7"/><circle cx="710.5" cy="821.1"/><circle cx="703.1" cy="1039.3"/><circle cx="880.6" cy="287.4"/><circle cx="730.6" cy="913.2"/><circle cx="1619.2" cy="824.6"/><circle cx="1191.0" cy="943.5"/><circle cx="891.0" cy="597.0"/><circle cx="750.7" cy="1043.3"/><circle cx="701.2" cy="1012.7"/><circle cx="639.0" cy="685.0"/><circle cx="746.5" cy="955.2"/><circle cx="599.4" cy="816.2"/><circle cx="598.9" cy="890.0"/><circle cx="551.3" cy="914.0"/><circle cx="1446.4" cy="849.9"/><circle cx="1621.6" cy="346.3"/><circle cx="664.5" cy="653.5"/><circle cx="649.4" cy="971.9"/><circle cx="698.1" cy="863.3"/><circle cx="1610.7" cy="336.7"/><circle cx="1629.5" cy="824.2"/><circle cx="622.7" cy="834.4"/><circle cx="1623.8" cy="792.1"/><circle cx="658.0" cy="798.8"/><circle cx="1612.0" cy="342.0"/><circle cx="843.4" cy="507.5"/><circle cx="1206.5" cy="806.5"/><circle cx="713.1" cy="868.9"/><circle cx="694.1" cy="830.4"/><circle cx="734.5" cy="887.6"/><circle cx="1494.3" cy="813.9"/><circle cx="801.0" cy="607.8"/><circle cx="723.8" cy="972.6"/><circle cx="605.6" cy="922.1"/><circle cx="613.4" cy="976.0"/><circle cx="1573.4" cy="865.7"/><circle cx="798.3" cy="1196.3"/><circle cx="614.1" cy="980.0"/><circle cx="673.6" cy="866.9"/><circle cx="690.2" cy="965.1"/><circle cx="397.4" cy="699.2"/><circle cx="534.1" cy="827.6"/><circle cx="1470.1" cy="792.5"/><circle cx="725.6" cy="1015.0"/><circle cx="1175.5" cy="780.3"/><circle cx="1509.2" cy="789.4"/><circle cx="670.5" cy="864.5"/><circle cx="893.3" cy="716.3"/><circle cx="1151.0" cy="929.6"/><circle cx="832.7" cy="705.0"/><circle cx="684.9" cy="1004.5"/><circle cx="658.9" cy="855.7"/><circle cx="1272.2" cy="779.2"/><circle cx="353.2" cy="695.1"/><circle cx="963.3" cy="568.9"/></g>
<g fill="#FB8F65"><circle cx="947.3" cy="550.3"/><circle cx="342.4" cy="607.7"/><circle cx="817.8" cy="761.9"/><circle cx="635.4" cy="859.8"/><circle cx="689.8" cy="800.4"/><circle cx="605.3" cy="993.3"/><circle cx="1137.9" cy="1078.1"/><circle cx="614.3" cy="898.9"/><circle cx="606.3" cy="784.0"/><circle cx="497.9" cy="818.6"/><circle cx="963.3" cy="692.7"/><circle cx="729.5" cy="798.3"/><circle cx="885.3" cy="983.0"/><circle cx="899.8" cy="296.6"/><circle cx="698.6" cy="831.1"/><circle cx="852.0" cy="298.4"/><circle cx="627.3" cy="842.5"/><circle cx="693.6" cy="867.8"/><circle cx="570.7" cy="815.1"/><circle cx="847.5" cy="386.5"/><circle cx="758.5" cy="874.4"/><circle cx="623.5" cy="938.6"/><circle cx="607.8" cy="905.4"/><circle cx="1143.2" cy="1079.5"/><circle cx="654.5" cy="930.7"/><circle cx="631.9" cy="852.1"/><circle cx="721.7" cy="791.6"/><circle cx="564.7" cy="886.3"/><circle cx="593.6" cy="945.8"/><circle cx="1093.3" cy="753.7"/><circle cx="534.3" cy="828.3"/><circle cx="670.5" cy="539.5"/><circle cx="625.0" cy="1011.1"/><circle cx="843.0" cy="426.6"/><circle cx="1124.6" cy="1087.5"/><circle cx="710.8" cy="930.1"/><circle cx="421.3" cy="754.4"/><circle cx="713.9" cy="966.1"/><circle cx="602.5" cy="881.3"/><circle cx="602.0" cy="928.2"/><circle cx="780.9" cy="1177.1"/><circle cx="681.3" cy="921.4"/><circle cx="1543.8" cy="809.4"/><circle cx="631.6" cy="909.0"/><circle cx="728.6" cy="983.8"/><circle cx="954.3" cy="556.7"/></g>
<g fill="#FEC98D"><circle cx="322.8" cy="696.6"/><circle cx="345.2" cy="694.1"/><circle cx="947.5" cy="701.5"/><circle cx="1152.6" cy="1112.4"/><circle cx="615.4" cy="965.4"/><circle cx="710.4" cy="977.3"/><circle cx="959.7" cy="686.7"/><circle cx="650.7" cy="948.2"/><circle cx="616.3" cy="999.8"/><circle cx="1006.3" cy="937.7"/><circle cx="1125.7" cy="901.7"/><circle cx="1134.1" cy="1076.0"/><circle cx="410.5" cy="731.7"/><circle cx="490.4" cy="804.8"/><circle cx="639.4" cy="823.3"/><circle cx="528.4" cy="839.9"/></g>
<g fill="#FCFDBF"><circle cx="710.8" cy="1027.2"/><circle cx="758.3" cy="826.8"/><circle cx="904.3" cy="711.5"/></g>
</g>
<!-- axes -->
<g stroke="#000" stroke-width="4.5" fill="none">
<path d="M205.6 142.6V1305.2M203.3 1303H1829.2"/>
<path d="M191 197.5H205M191 489.9H205M191 782.2H205M191 1074.6H205"/>
<path d="M279 1303V1317M599.5 1303V1317M920 1303V1317M1240.5 1303V1317M1561 1303V1317"/>
</g>
<g class="tk" text-anchor="end" transform="translate(-1.3 0.3)">
<text transform="translate(179 216) scale(1 1.04)">10</text><text transform="translate(179 508.4) scale(1 1.04)">5</text><text transform="translate(179 800.7) scale(1 1.04)">0</text><text transform="translate(179 1093) scale(1 1.04)">-5</text>
</g>
<g class="tk" text-anchor="middle">
<text transform="translate(279 1366) scale(1 1.04)">-10</text><text transform="translate(599.5 1366) scale(1 1.04)">-5</text><text transform="translate(920 1366) scale(1 1.04)">0</text><text transform="translate(1240.5 1366) scale(1 1.04)">5</text><text transform="translate(1561 1366) scale(1 1.04)">10</text>
</g>
<text class="ax" transform="translate(1016.5 1435.3) scale(1 1.04)" text-anchor="middle">UMAP_1</text>
<text class="ax" transform="translate(93.2 722.8) rotate(-90) scale(1 1.04)" text-anchor="middle">UMAP_2</text>
<!-- legend -->
<rect x="1884.8" y="578.3" width="64.4" height="318.6" fill="url(#mg)"/>
<g stroke="#fff" stroke-width="1.6">
<path d="M1884.8 631H1897.8M1936.2 631H1949.2M1884.8 719.5H1897.8M1936.2 719.5H1949.2M1884.8 808H1897.8M1936.2 808H1949.2M1884.8 896.5H1897.8M1936.2 896.5H1949.2"/>
</g>
<g class="tk" transform="translate(1 1)">
<text transform="translate(1977 649) scale(1 1.04)">1.5</text><text transform="translate(1977 737.5) scale(1 1.04)">1.0</text><text transform="translate(1977 826) scale(1 1.04)">0.5</text><text transform="translate(1977 914.5) scale(1 1.04)">0.0</text>
</g>
</svg>
</body></html>
